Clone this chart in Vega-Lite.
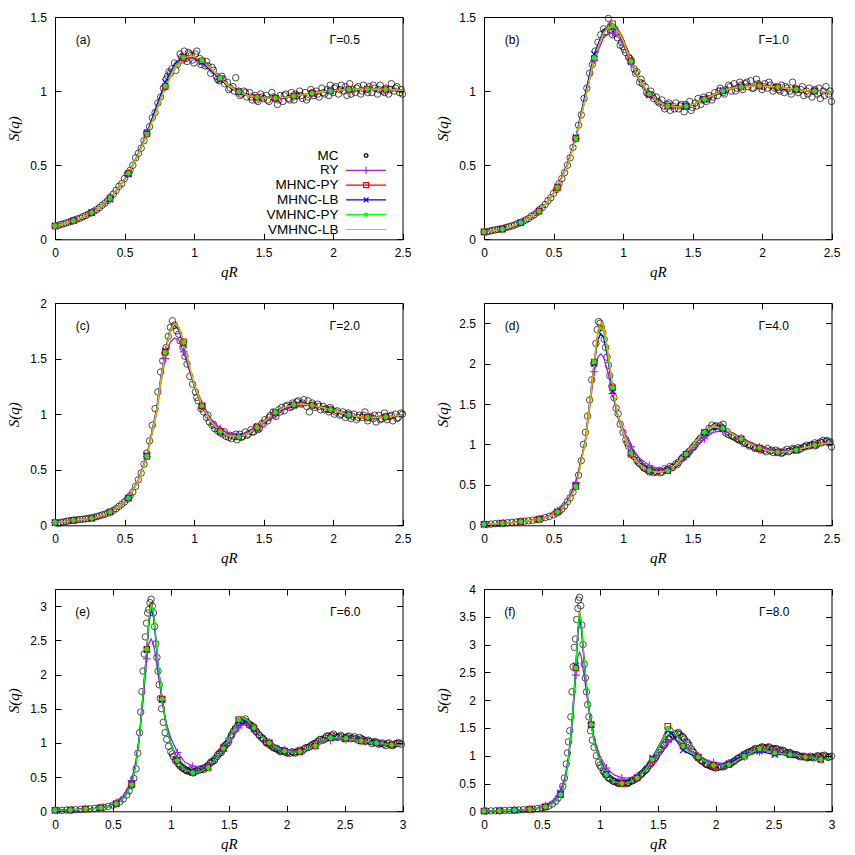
{
"$schema": "https://vega.github.io/schema/vega-lite/v6.json",
"padding": {"left": 5, "top": 10, "right": 0, "bottom": 0},
"background": "white",
"columns": 2,
"spacing": {"row": 63, "column": 81},
"bounds": "flush",
"datasets": {
"labels": [
{"p":"a","tag":"(a)","g":"Γ=0.5"},{"p":"b","tag":"(b)","g":"Γ=1.0"},{"p":"c","tag":"(c)","g":"Γ=2.0"},{"p":"d","tag":"(d)","g":"Γ=4.0"},{"p":"e","tag":"(e)","g":"Γ=6.0"},{"p":"f","tag":"(f)","g":"Γ=8.0"}
],
"curves": [
{"p":"a","q":0,"RY":0.088,"MHNC-PY":0.09,"MHNC-LB":0.09,"VMHNC-PY":0.09,"VMHNC-LB":0.09},
{"p":"a","q":0.066,"RY":0.105,"MHNC-PY":0.105,"MHNC-LB":0.105,"VMHNC-PY":0.105,"VMHNC-LB":0.105},
{"p":"a","q":0.132,"RY":0.125,"MHNC-PY":0.125,"MHNC-LB":0.125,"VMHNC-PY":0.125,"VMHNC-LB":0.125},
{"p":"a","q":0.2,"RY":0.15,"MHNC-PY":0.15,"MHNC-LB":0.15,"VMHNC-PY":0.15,"VMHNC-LB":0.15},
{"p":"a","q":0.264,"RY":0.18,"MHNC-PY":0.18,"MHNC-LB":0.18,"VMHNC-PY":0.18,"VMHNC-LB":0.18},
{"p":"a","q":0.33,"RY":0.22,"MHNC-PY":0.22,"MHNC-LB":0.22,"VMHNC-PY":0.22,"VMHNC-LB":0.22},
{"p":"a","q":0.396,"RY":0.275,"MHNC-PY":0.275,"MHNC-LB":0.27,"VMHNC-PY":0.275,"VMHNC-LB":0.275},
{"p":"a","q":0.46,"RY":0.35,"MHNC-PY":0.35,"MHNC-LB":0.35,"VMHNC-PY":0.35,"VMHNC-LB":0.35},
{"p":"a","q":0.529,"RY":0.445,"MHNC-PY":0.445,"MHNC-LB":0.44,"VMHNC-PY":0.445,"VMHNC-LB":0.445},
{"p":"a","q":0.6,"RY":0.575,"MHNC-PY":0.575,"MHNC-LB":0.58,"VMHNC-PY":0.575,"VMHNC-LB":0.57},
{"p":"a","q":0.661,"RY":0.71,"MHNC-PY":0.71,"MHNC-LB":0.72,"VMHNC-PY":0.71,"VMHNC-LB":0.705},
{"p":"a","q":0.73,"RY":0.87,"MHNC-PY":0.87,"MHNC-LB":0.9,"VMHNC-PY":0.87,"VMHNC-LB":0.86},
{"p":"a","q":0.793,"RY":1.03,"MHNC-PY":1.03,"MHNC-LB":1.06,"VMHNC-PY":1.035,"VMHNC-LB":1.02},
{"p":"a","q":0.86,"RY":1.15,"MHNC-PY":1.16,"MHNC-LB":1.18,"VMHNC-PY":1.16,"VMHNC-LB":1.15},
{"p":"a","q":0.925,"RY":1.215,"MHNC-PY":1.225,"MHNC-LB":1.235,"VMHNC-PY":1.228,"VMHNC-LB":1.222},
{"p":"a","q":0.97,"RY":1.222,"MHNC-PY":1.235,"MHNC-LB":1.235,"VMHNC-PY":1.237,"VMHNC-LB":1.235},
{"p":"a","q":1.0,"RY":1.222,"MHNC-PY":1.232,"MHNC-LB":1.225,"VMHNC-PY":1.234,"VMHNC-LB":1.233},
{"p":"a","q":1.057,"RY":1.2,"MHNC-PY":1.205,"MHNC-LB":1.195,"VMHNC-PY":1.207,"VMHNC-LB":1.207},
{"p":"a","q":1.12,"RY":1.15,"MHNC-PY":1.15,"MHNC-LB":1.14,"VMHNC-PY":1.152,"VMHNC-LB":1.152},
{"p":"a","q":1.189,"RY":1.085,"MHNC-PY":1.085,"MHNC-LB":1.078,"VMHNC-PY":1.087,"VMHNC-LB":1.087},
{"p":"a","q":1.25,"RY":1.035,"MHNC-PY":1.035,"MHNC-LB":1.03,"VMHNC-PY":1.035,"VMHNC-LB":1.035},
{"p":"a","q":1.322,"RY":0.995,"MHNC-PY":0.995,"MHNC-LB":0.993,"VMHNC-PY":0.995,"VMHNC-LB":0.995},
{"p":"a","q":1.39,"RY":0.97,"MHNC-PY":0.97,"MHNC-LB":0.97,"VMHNC-PY":0.97,"VMHNC-LB":0.97},
{"p":"a","q":1.454,"RY":0.957,"MHNC-PY":0.957,"MHNC-LB":0.957,"VMHNC-PY":0.957,"VMHNC-LB":0.957},
{"p":"a","q":1.52,"RY":0.952,"MHNC-PY":0.952,"MHNC-LB":0.952,"VMHNC-PY":0.952,"VMHNC-LB":0.952},
{"p":"a","q":1.586,"RY":0.953,"MHNC-PY":0.953,"MHNC-LB":0.953,"VMHNC-PY":0.953,"VMHNC-LB":0.953},
{"p":"a","q":1.65,"RY":0.958,"MHNC-PY":0.958,"MHNC-LB":0.958,"VMHNC-PY":0.958,"VMHNC-LB":0.958},
{"p":"a","q":1.718,"RY":0.966,"MHNC-PY":0.966,"MHNC-LB":0.966,"VMHNC-PY":0.966,"VMHNC-LB":0.966},
{"p":"a","q":1.78,"RY":0.975,"MHNC-PY":0.975,"MHNC-LB":0.975,"VMHNC-PY":0.975,"VMHNC-LB":0.975},
{"p":"a","q":1.85,"RY":0.985,"MHNC-PY":0.985,"MHNC-LB":0.985,"VMHNC-PY":0.985,"VMHNC-LB":0.985},
{"p":"a","q":1.92,"RY":0.994,"MHNC-PY":0.994,"MHNC-LB":0.994,"VMHNC-PY":0.994,"VMHNC-LB":0.994},
{"p":"a","q":1.982,"RY":1.001,"MHNC-PY":1.001,"MHNC-LB":1.001,"VMHNC-PY":1.001,"VMHNC-LB":1.001},
{"p":"a","q":2.05,"RY":1.007,"MHNC-PY":1.007,"MHNC-LB":1.007,"VMHNC-PY":1.007,"VMHNC-LB":1.007},
{"p":"a","q":2.114,"RY":1.011,"MHNC-PY":1.011,"MHNC-LB":1.011,"VMHNC-PY":1.011,"VMHNC-LB":1.011},
{"p":"a","q":2.18,"RY":1.013,"MHNC-PY":1.013,"MHNC-LB":1.013,"VMHNC-PY":1.013,"VMHNC-LB":1.013},
{"p":"a","q":2.247,"RY":1.014,"MHNC-PY":1.014,"MHNC-LB":1.014,"VMHNC-PY":1.014,"VMHNC-LB":1.014},
{"p":"a","q":2.31,"RY":1.013,"MHNC-PY":1.013,"MHNC-LB":1.013,"VMHNC-PY":1.013,"VMHNC-LB":1.013},
{"p":"a","q":2.379,"RY":1.011,"MHNC-PY":1.011,"MHNC-LB":1.011,"VMHNC-PY":1.011,"VMHNC-LB":1.011},
{"p":"a","q":2.44,"RY":1.008,"MHNC-PY":1.008,"MHNC-LB":1.008,"VMHNC-PY":1.008,"VMHNC-LB":1.008},
{"p":"a","q":2.5,"RY":1.005,"MHNC-PY":1.005,"MHNC-LB":1.005,"VMHNC-PY":1.005,"VMHNC-LB":1.005},
{"p":"b","q":0,"RY":0.05,"MHNC-PY":0.05,"MHNC-LB":0.05,"VMHNC-PY":0.05,"VMHNC-LB":0.05},
{"p":"b","q":0.066,"RY":0.058,"MHNC-PY":0.058,"MHNC-LB":0.058,"VMHNC-PY":0.058,"VMHNC-LB":0.058},
{"p":"b","q":0.132,"RY":0.068,"MHNC-PY":0.068,"MHNC-LB":0.068,"VMHNC-PY":0.068,"VMHNC-LB":0.068},
{"p":"b","q":0.2,"RY":0.087,"MHNC-PY":0.087,"MHNC-LB":0.087,"VMHNC-PY":0.087,"VMHNC-LB":0.087},
{"p":"b","q":0.264,"RY":0.112,"MHNC-PY":0.112,"MHNC-LB":0.112,"VMHNC-PY":0.112,"VMHNC-LB":0.112},
{"p":"b","q":0.33,"RY":0.145,"MHNC-PY":0.145,"MHNC-LB":0.145,"VMHNC-PY":0.145,"VMHNC-LB":0.145},
{"p":"b","q":0.396,"RY":0.19,"MHNC-PY":0.19,"MHNC-LB":0.19,"VMHNC-PY":0.19,"VMHNC-LB":0.19},
{"p":"b","q":0.46,"RY":0.255,"MHNC-PY":0.255,"MHNC-LB":0.255,"VMHNC-PY":0.255,"VMHNC-LB":0.255},
{"p":"b","q":0.529,"RY":0.35,"MHNC-PY":0.35,"MHNC-LB":0.355,"VMHNC-PY":0.35,"VMHNC-LB":0.35},
{"p":"b","q":0.6,"RY":0.5,"MHNC-PY":0.5,"MHNC-LB":0.51,"VMHNC-PY":0.5,"VMHNC-LB":0.5},
{"p":"b","q":0.661,"RY":0.68,"MHNC-PY":0.68,"MHNC-LB":0.69,"VMHNC-PY":0.68,"VMHNC-LB":0.675},
{"p":"b","q":0.73,"RY":0.96,"MHNC-PY":0.96,"MHNC-LB":0.99,"VMHNC-PY":0.96,"VMHNC-LB":0.955},
{"p":"b","q":0.793,"RY":1.21,"MHNC-PY":1.22,"MHNC-LB":1.25,"VMHNC-PY":1.225,"VMHNC-LB":1.22},
{"p":"b","q":0.86,"RY":1.36,"MHNC-PY":1.4,"MHNC-LB":1.41,"VMHNC-PY":1.395,"VMHNC-LB":1.39},
{"p":"b","q":0.9,"RY":1.39,"MHNC-PY":1.45,"MHNC-LB":1.44,"VMHNC-PY":1.44,"VMHNC-LB":1.43},
{"p":"b","q":0.925,"RY":1.39,"MHNC-PY":1.455,"MHNC-LB":1.43,"VMHNC-PY":1.44,"VMHNC-LB":1.428},
{"p":"b","q":0.97,"RY":1.36,"MHNC-PY":1.41,"MHNC-LB":1.385,"VMHNC-PY":1.4,"VMHNC-LB":1.39},
{"p":"b","q":1.0,"RY":1.32,"MHNC-PY":1.355,"MHNC-LB":1.335,"VMHNC-PY":1.345,"VMHNC-LB":1.34},
{"p":"b","q":1.057,"RY":1.19,"MHNC-PY":1.205,"MHNC-LB":1.195,"VMHNC-PY":1.2,"VMHNC-LB":1.2},
{"p":"b","q":1.12,"RY":1.07,"MHNC-PY":1.075,"MHNC-LB":1.07,"VMHNC-PY":1.075,"VMHNC-LB":1.075},
{"p":"b","q":1.189,"RY":0.98,"MHNC-PY":0.978,"MHNC-LB":0.975,"VMHNC-PY":0.98,"VMHNC-LB":0.98},
{"p":"b","q":1.25,"RY":0.93,"MHNC-PY":0.922,"MHNC-LB":0.922,"VMHNC-PY":0.925,"VMHNC-LB":0.925},
{"p":"b","q":1.322,"RY":0.905,"MHNC-PY":0.898,"MHNC-LB":0.898,"VMHNC-PY":0.9,"VMHNC-LB":0.9},
{"p":"b","q":1.39,"RY":0.897,"MHNC-PY":0.892,"MHNC-LB":0.892,"VMHNC-PY":0.893,"VMHNC-LB":0.893},
{"p":"b","q":1.454,"RY":0.9,"MHNC-PY":0.896,"MHNC-LB":0.896,"VMHNC-PY":0.897,"VMHNC-LB":0.897},
{"p":"b","q":1.52,"RY":0.915,"MHNC-PY":0.915,"MHNC-LB":0.915,"VMHNC-PY":0.915,"VMHNC-LB":0.915},
{"p":"b","q":1.586,"RY":0.943,"MHNC-PY":0.945,"MHNC-LB":0.945,"VMHNC-PY":0.945,"VMHNC-LB":0.945},
{"p":"b","q":1.65,"RY":0.975,"MHNC-PY":0.975,"MHNC-LB":0.975,"VMHNC-PY":0.975,"VMHNC-LB":0.975},
{"p":"b","q":1.718,"RY":1.002,"MHNC-PY":1.002,"MHNC-LB":1.002,"VMHNC-PY":1.002,"VMHNC-LB":1.002},
{"p":"b","q":1.78,"RY":1.018,"MHNC-PY":1.018,"MHNC-LB":1.018,"VMHNC-PY":1.018,"VMHNC-LB":1.018},
{"p":"b","q":1.85,"RY":1.028,"MHNC-PY":1.028,"MHNC-LB":1.028,"VMHNC-PY":1.028,"VMHNC-LB":1.028},
{"p":"b","q":1.92,"RY":1.034,"MHNC-PY":1.034,"MHNC-LB":1.034,"VMHNC-PY":1.034,"VMHNC-LB":1.034},
{"p":"b","q":1.982,"RY":1.035,"MHNC-PY":1.035,"MHNC-LB":1.035,"VMHNC-PY":1.035,"VMHNC-LB":1.035},
{"p":"b","q":2.05,"RY":1.032,"MHNC-PY":1.032,"MHNC-LB":1.032,"VMHNC-PY":1.032,"VMHNC-LB":1.032},
{"p":"b","q":2.114,"RY":1.026,"MHNC-PY":1.026,"MHNC-LB":1.026,"VMHNC-PY":1.026,"VMHNC-LB":1.026},
{"p":"b","q":2.18,"RY":1.019,"MHNC-PY":1.019,"MHNC-LB":1.019,"VMHNC-PY":1.019,"VMHNC-LB":1.019},
{"p":"b","q":2.247,"RY":1.012,"MHNC-PY":1.012,"MHNC-LB":1.012,"VMHNC-PY":1.012,"VMHNC-LB":1.012},
{"p":"b","q":2.31,"RY":1.005,"MHNC-PY":1.005,"MHNC-LB":1.005,"VMHNC-PY":1.005,"VMHNC-LB":1.005},
{"p":"b","q":2.379,"RY":1.0,"MHNC-PY":1.0,"MHNC-LB":1.0,"VMHNC-PY":1.0,"VMHNC-LB":1.0},
{"p":"b","q":2.44,"RY":0.996,"MHNC-PY":0.996,"MHNC-LB":0.996,"VMHNC-PY":0.996,"VMHNC-LB":0.996},
{"p":"b","q":2.5,"RY":0.994,"MHNC-PY":0.994,"MHNC-LB":0.994,"VMHNC-PY":0.994,"VMHNC-LB":0.994},
{"p":"c","q":0,"RY":0.025,"MHNC-PY":0.025,"MHNC-LB":0.025,"VMHNC-PY":0.025,"VMHNC-LB":0.025},
{"p":"c","q":0.066,"RY":0.033,"MHNC-PY":0.033,"MHNC-LB":0.033,"VMHNC-PY":0.033,"VMHNC-LB":0.033},
{"p":"c","q":0.132,"RY":0.045,"MHNC-PY":0.045,"MHNC-LB":0.045,"VMHNC-PY":0.045,"VMHNC-LB":0.045},
{"p":"c","q":0.2,"RY":0.053,"MHNC-PY":0.053,"MHNC-LB":0.053,"VMHNC-PY":0.053,"VMHNC-LB":0.053},
{"p":"c","q":0.264,"RY":0.063,"MHNC-PY":0.063,"MHNC-LB":0.063,"VMHNC-PY":0.063,"VMHNC-LB":0.063},
{"p":"c","q":0.33,"RY":0.085,"MHNC-PY":0.085,"MHNC-LB":0.085,"VMHNC-PY":0.085,"VMHNC-LB":0.085},
{"p":"c","q":0.396,"RY":0.12,"MHNC-PY":0.12,"MHNC-LB":0.12,"VMHNC-PY":0.12,"VMHNC-LB":0.12},
{"p":"c","q":0.46,"RY":0.17,"MHNC-PY":0.17,"MHNC-LB":0.17,"VMHNC-PY":0.17,"VMHNC-LB":0.17},
{"p":"c","q":0.529,"RY":0.25,"MHNC-PY":0.245,"MHNC-LB":0.245,"VMHNC-PY":0.245,"VMHNC-LB":0.245},
{"p":"c","q":0.6,"RY":0.41,"MHNC-PY":0.4,"MHNC-LB":0.405,"VMHNC-PY":0.4,"VMHNC-LB":0.4},
{"p":"c","q":0.661,"RY":0.62,"MHNC-PY":0.62,"MHNC-LB":0.63,"VMHNC-PY":0.62,"VMHNC-LB":0.615},
{"p":"c","q":0.73,"RY":1.0,"MHNC-PY":1.02,"MHNC-LB":1.04,"VMHNC-PY":1.02,"VMHNC-LB":1.01},
{"p":"c","q":0.76,"RY":1.27,"MHNC-PY":1.3,"MHNC-LB":1.32,"VMHNC-PY":1.3,"VMHNC-LB":1.29},
{"p":"c","q":0.793,"RY":1.5,"MHNC-PY":1.56,"MHNC-LB":1.57,"VMHNC-PY":1.555,"VMHNC-LB":1.55},
{"p":"c","q":0.83,"RY":1.65,"MHNC-PY":1.76,"MHNC-LB":1.77,"VMHNC-PY":1.76,"VMHNC-LB":1.755},
{"p":"c","q":0.86,"RY":1.685,"MHNC-PY":1.82,"MHNC-LB":1.8,"VMHNC-PY":1.815,"VMHNC-LB":1.815},
{"p":"c","q":0.89,"RY":1.67,"MHNC-PY":1.78,"MHNC-LB":1.76,"VMHNC-PY":1.78,"VMHNC-LB":1.785},
{"p":"c","q":0.925,"RY":1.56,"MHNC-PY":1.65,"MHNC-LB":1.63,"VMHNC-PY":1.645,"VMHNC-LB":1.655},
{"p":"c","q":0.96,"RY":1.42,"MHNC-PY":1.46,"MHNC-LB":1.44,"VMHNC-PY":1.46,"VMHNC-LB":1.47},
{"p":"c","q":1.0,"RY":1.27,"MHNC-PY":1.27,"MHNC-LB":1.26,"VMHNC-PY":1.27,"VMHNC-LB":1.28},
{"p":"c","q":1.057,"RY":1.09,"MHNC-PY":1.075,"MHNC-LB":1.07,"VMHNC-PY":1.075,"VMHNC-LB":1.08},
{"p":"c","q":1.12,"RY":0.96,"MHNC-PY":0.935,"MHNC-LB":0.93,"VMHNC-PY":0.935,"VMHNC-LB":0.938},
{"p":"c","q":1.189,"RY":0.87,"MHNC-PY":0.845,"MHNC-LB":0.84,"VMHNC-PY":0.845,"VMHNC-LB":0.847},
{"p":"c","q":1.25,"RY":0.83,"MHNC-PY":0.805,"MHNC-LB":0.805,"VMHNC-PY":0.805,"VMHNC-LB":0.807},
{"p":"c","q":1.322,"RY":0.815,"MHNC-PY":0.795,"MHNC-LB":0.797,"VMHNC-PY":0.795,"VMHNC-LB":0.797},
{"p":"c","q":1.39,"RY":0.835,"MHNC-PY":0.825,"MHNC-LB":0.827,"VMHNC-PY":0.825,"VMHNC-LB":0.826},
{"p":"c","q":1.454,"RY":0.875,"MHNC-PY":0.88,"MHNC-LB":0.88,"VMHNC-PY":0.88,"VMHNC-LB":0.88},
{"p":"c","q":1.52,"RY":0.935,"MHNC-PY":0.95,"MHNC-LB":0.95,"VMHNC-PY":0.95,"VMHNC-LB":0.95},
{"p":"c","q":1.586,"RY":0.99,"MHNC-PY":1.015,"MHNC-LB":1.01,"VMHNC-PY":1.015,"VMHNC-LB":1.015},
{"p":"c","q":1.65,"RY":1.04,"MHNC-PY":1.06,"MHNC-LB":1.055,"VMHNC-PY":1.06,"VMHNC-LB":1.06},
{"p":"c","q":1.718,"RY":1.07,"MHNC-PY":1.085,"MHNC-LB":1.082,"VMHNC-PY":1.085,"VMHNC-LB":1.085},
{"p":"c","q":1.78,"RY":1.08,"MHNC-PY":1.09,"MHNC-LB":1.088,"VMHNC-PY":1.09,"VMHNC-LB":1.09},
{"p":"c","q":1.85,"RY":1.075,"MHNC-PY":1.08,"MHNC-LB":1.078,"VMHNC-PY":1.08,"VMHNC-LB":1.08},
{"p":"c","q":1.92,"RY":1.058,"MHNC-PY":1.06,"MHNC-LB":1.06,"VMHNC-PY":1.06,"VMHNC-LB":1.06},
{"p":"c","q":1.982,"RY":1.04,"MHNC-PY":1.04,"MHNC-LB":1.04,"VMHNC-PY":1.04,"VMHNC-LB":1.04},
{"p":"c","q":2.05,"RY":1.015,"MHNC-PY":1.015,"MHNC-LB":1.015,"VMHNC-PY":1.015,"VMHNC-LB":1.015},
{"p":"c","q":2.114,"RY":0.993,"MHNC-PY":0.993,"MHNC-LB":0.993,"VMHNC-PY":0.993,"VMHNC-LB":0.993},
{"p":"c","q":2.18,"RY":0.978,"MHNC-PY":0.978,"MHNC-LB":0.978,"VMHNC-PY":0.978,"VMHNC-LB":0.978},
{"p":"c","q":2.247,"RY":0.97,"MHNC-PY":0.97,"MHNC-LB":0.97,"VMHNC-PY":0.97,"VMHNC-LB":0.97},
{"p":"c","q":2.31,"RY":0.97,"MHNC-PY":0.97,"MHNC-LB":0.97,"VMHNC-PY":0.97,"VMHNC-LB":0.97},
{"p":"c","q":2.379,"RY":0.975,"MHNC-PY":0.975,"MHNC-LB":0.975,"VMHNC-PY":0.975,"VMHNC-LB":0.975},
{"p":"c","q":2.44,"RY":0.985,"MHNC-PY":0.985,"MHNC-LB":0.985,"VMHNC-PY":0.985,"VMHNC-LB":0.985},
{"p":"c","q":2.5,"RY":0.993,"MHNC-PY":0.993,"MHNC-LB":0.993,"VMHNC-PY":0.993,"VMHNC-LB":0.993},
{"p":"d","q":0,"RY":0.012,"MHNC-PY":0.012,"MHNC-LB":0.012,"VMHNC-PY":0.012,"VMHNC-LB":0.012},
{"p":"d","q":0.066,"RY":0.018,"MHNC-PY":0.018,"MHNC-LB":0.018,"VMHNC-PY":0.018,"VMHNC-LB":0.018},
{"p":"d","q":0.132,"RY":0.025,"MHNC-PY":0.025,"MHNC-LB":0.025,"VMHNC-PY":0.025,"VMHNC-LB":0.025},
{"p":"d","q":0.2,"RY":0.034,"MHNC-PY":0.034,"MHNC-LB":0.034,"VMHNC-PY":0.034,"VMHNC-LB":0.034},
{"p":"d","q":0.264,"RY":0.046,"MHNC-PY":0.045,"MHNC-LB":0.045,"VMHNC-PY":0.045,"VMHNC-LB":0.045},
{"p":"d","q":0.33,"RY":0.06,"MHNC-PY":0.057,"MHNC-LB":0.057,"VMHNC-PY":0.057,"VMHNC-LB":0.057},
{"p":"d","q":0.396,"RY":0.08,"MHNC-PY":0.074,"MHNC-LB":0.074,"VMHNC-PY":0.074,"VMHNC-LB":0.074},
{"p":"d","q":0.46,"RY":0.115,"MHNC-PY":0.105,"MHNC-LB":0.105,"VMHNC-PY":0.105,"VMHNC-LB":0.105},
{"p":"d","q":0.529,"RY":0.18,"MHNC-PY":0.165,"MHNC-LB":0.168,"VMHNC-PY":0.165,"VMHNC-LB":0.163},
{"p":"d","q":0.6,"RY":0.3,"MHNC-PY":0.28,"MHNC-LB":0.285,"VMHNC-PY":0.28,"VMHNC-LB":0.275},
{"p":"d","q":0.661,"RY":0.53,"MHNC-PY":0.48,"MHNC-LB":0.49,"VMHNC-PY":0.48,"VMHNC-LB":0.47},
{"p":"d","q":0.73,"RY":1.05,"MHNC-PY":1.05,"MHNC-LB":1.07,"VMHNC-PY":1.05,"VMHNC-LB":1.03},
{"p":"d","q":0.76,"RY":1.45,"MHNC-PY":1.5,"MHNC-LB":1.52,"VMHNC-PY":1.5,"VMHNC-LB":1.48},
{"p":"d","q":0.793,"RY":1.9,"MHNC-PY":2.02,"MHNC-LB":2.0,"VMHNC-PY":2.02,"VMHNC-LB":2.0},
{"p":"d","q":0.82,"RY":2.08,"MHNC-PY":2.4,"MHNC-LB":2.3,"VMHNC-PY":2.38,"VMHNC-LB":2.42},
{"p":"d","q":0.84,"RY":2.12,"MHNC-PY":2.48,"MHNC-LB":2.37,"VMHNC-PY":2.45,"VMHNC-LB":2.51},
{"p":"d","q":0.86,"RY":2.08,"MHNC-PY":2.43,"MHNC-LB":2.33,"VMHNC-PY":2.41,"VMHNC-LB":2.47},
{"p":"d","q":0.89,"RY":1.9,"MHNC-PY":2.14,"MHNC-LB":2.07,"VMHNC-PY":2.12,"VMHNC-LB":2.17},
{"p":"d","q":0.925,"RY":1.63,"MHNC-PY":1.7,"MHNC-LB":1.66,"VMHNC-PY":1.7,"VMHNC-LB":1.72},
{"p":"d","q":0.96,"RY":1.38,"MHNC-PY":1.38,"MHNC-LB":1.36,"VMHNC-PY":1.38,"VMHNC-LB":1.39},
{"p":"d","q":1.0,"RY":1.2,"MHNC-PY":1.15,"MHNC-LB":1.14,"VMHNC-PY":1.15,"VMHNC-LB":1.16},
{"p":"d","q":1.057,"RY":0.97,"MHNC-PY":0.88,"MHNC-LB":0.9,"VMHNC-PY":0.89,"VMHNC-LB":0.89},
{"p":"d","q":1.12,"RY":0.83,"MHNC-PY":0.75,"MHNC-LB":0.77,"VMHNC-PY":0.755,"VMHNC-LB":0.75},
{"p":"d","q":1.189,"RY":0.74,"MHNC-PY":0.675,"MHNC-LB":0.69,"VMHNC-PY":0.68,"VMHNC-LB":0.675},
{"p":"d","q":1.25,"RY":0.7,"MHNC-PY":0.655,"MHNC-LB":0.665,"VMHNC-PY":0.66,"VMHNC-LB":0.655},
{"p":"d","q":1.322,"RY":0.7,"MHNC-PY":0.675,"MHNC-LB":0.68,"VMHNC-PY":0.675,"VMHNC-LB":0.675},
{"p":"d","q":1.39,"RY":0.76,"MHNC-PY":0.76,"MHNC-LB":0.765,"VMHNC-PY":0.76,"VMHNC-LB":0.765},
{"p":"d","q":1.454,"RY":0.85,"MHNC-PY":0.88,"MHNC-LB":0.88,"VMHNC-PY":0.88,"VMHNC-LB":0.89},
{"p":"d","q":1.52,"RY":0.96,"MHNC-PY":1.02,"MHNC-LB":1.01,"VMHNC-PY":1.02,"VMHNC-LB":1.03},
{"p":"d","q":1.586,"RY":1.07,"MHNC-PY":1.15,"MHNC-LB":1.14,"VMHNC-PY":1.15,"VMHNC-LB":1.17},
{"p":"d","q":1.65,"RY":1.15,"MHNC-PY":1.215,"MHNC-LB":1.2,"VMHNC-PY":1.215,"VMHNC-LB":1.225},
{"p":"d","q":1.718,"RY":1.17,"MHNC-PY":1.2,"MHNC-LB":1.19,"VMHNC-PY":1.2,"VMHNC-LB":1.2},
{"p":"d","q":1.78,"RY":1.13,"MHNC-PY":1.14,"MHNC-LB":1.135,"VMHNC-PY":1.14,"VMHNC-LB":1.135},
{"p":"d","q":1.85,"RY":1.08,"MHNC-PY":1.07,"MHNC-LB":1.07,"VMHNC-PY":1.07,"VMHNC-LB":1.065},
{"p":"d","q":1.92,"RY":1.02,"MHNC-PY":1.0,"MHNC-LB":1.0,"VMHNC-PY":1.0,"VMHNC-LB":1.0},
{"p":"d","q":1.982,"RY":0.97,"MHNC-PY":0.955,"MHNC-LB":0.955,"VMHNC-PY":0.955,"VMHNC-LB":0.953},
{"p":"d","q":2.05,"RY":0.94,"MHNC-PY":0.92,"MHNC-LB":0.92,"VMHNC-PY":0.92,"VMHNC-LB":0.918},
{"p":"d","q":2.114,"RY":0.92,"MHNC-PY":0.905,"MHNC-LB":0.905,"VMHNC-PY":0.905,"VMHNC-LB":0.905},
{"p":"d","q":2.18,"RY":0.92,"MHNC-PY":0.91,"MHNC-LB":0.91,"VMHNC-PY":0.91,"VMHNC-LB":0.912},
{"p":"d","q":2.247,"RY":0.935,"MHNC-PY":0.93,"MHNC-LB":0.93,"VMHNC-PY":0.93,"VMHNC-LB":0.932},
{"p":"d","q":2.31,"RY":0.96,"MHNC-PY":0.96,"MHNC-LB":0.96,"VMHNC-PY":0.96,"VMHNC-LB":0.962},
{"p":"d","q":2.379,"RY":0.985,"MHNC-PY":0.99,"MHNC-LB":0.99,"VMHNC-PY":0.99,"VMHNC-LB":0.99},
{"p":"d","q":2.44,"RY":1.005,"MHNC-PY":1.01,"MHNC-LB":1.01,"VMHNC-PY":1.01,"VMHNC-LB":1.01},
{"p":"d","q":2.5,"RY":1.015,"MHNC-PY":1.02,"MHNC-LB":1.02,"VMHNC-PY":1.02,"VMHNC-LB":1.02},
{"p":"e","q":0,"RY":0.015,"MHNC-PY":0.015,"MHNC-LB":0.015,"VMHNC-PY":0.015},
{"p":"e","q":0.066,"RY":0.017,"MHNC-PY":0.017,"MHNC-LB":0.017,"VMHNC-PY":0.017},
{"p":"e","q":0.132,"RY":0.02,"MHNC-PY":0.02,"MHNC-LB":0.02,"VMHNC-PY":0.02},
{"p":"e","q":0.2,"RY":0.027,"MHNC-PY":0.026,"MHNC-LB":0.026,"VMHNC-PY":0.026},
{"p":"e","q":0.264,"RY":0.036,"MHNC-PY":0.034,"MHNC-LB":0.034,"VMHNC-PY":0.034},
{"p":"e","q":0.33,"RY":0.043,"MHNC-PY":0.04,"MHNC-LB":0.04,"VMHNC-PY":0.04},
{"p":"e","q":0.396,"RY":0.055,"MHNC-PY":0.05,"MHNC-LB":0.05,"VMHNC-PY":0.05},
{"p":"e","q":0.46,"RY":0.08,"MHNC-PY":0.07,"MHNC-LB":0.07,"VMHNC-PY":0.07},
{"p":"e","q":0.529,"RY":0.13,"MHNC-PY":0.11,"MHNC-LB":0.112,"VMHNC-PY":0.11},
{"p":"e","q":0.6,"RY":0.24,"MHNC-PY":0.2,"MHNC-LB":0.205,"VMHNC-PY":0.2},
{"p":"e","q":0.661,"RY":0.45,"MHNC-PY":0.39,"MHNC-LB":0.4,"VMHNC-PY":0.39},
{"p":"e","q":0.7,"RY":0.75,"MHNC-PY":0.7,"MHNC-LB":0.72,"VMHNC-PY":0.7},
{"p":"e","q":0.73,"RY":1.1,"MHNC-PY":1.1,"MHNC-LB":1.12,"VMHNC-PY":1.1},
{"p":"e","q":0.76,"RY":1.6,"MHNC-PY":1.7,"MHNC-LB":1.72,"VMHNC-PY":1.7},
{"p":"e","q":0.793,"RY":2.23,"MHNC-PY":2.37,"MHNC-LB":2.36,"VMHNC-PY":2.37},
{"p":"e","q":0.81,"RY":2.45,"MHNC-PY":2.8,"MHNC-LB":2.75,"VMHNC-PY":2.8},
{"p":"e","q":0.83,"RY":2.52,"MHNC-PY":3.05,"MHNC-LB":2.95,"VMHNC-PY":3.03},
{"p":"e","q":0.85,"RY":2.45,"MHNC-PY":2.9,"MHNC-LB":2.85,"VMHNC-PY":2.9},
{"p":"e","q":0.87,"RY":2.25,"MHNC-PY":2.55,"MHNC-LB":2.5,"VMHNC-PY":2.55},
{"p":"e","q":0.89,"RY":2.0,"MHNC-PY":2.15,"MHNC-LB":2.12,"VMHNC-PY":2.15},
{"p":"e","q":0.925,"RY":1.62,"MHNC-PY":1.64,"MHNC-LB":1.63,"VMHNC-PY":1.64},
{"p":"e","q":0.96,"RY":1.3,"MHNC-PY":1.25,"MHNC-LB":1.25,"VMHNC-PY":1.25},
{"p":"e","q":1.0,"RY":1.07,"MHNC-PY":0.98,"MHNC-LB":0.99,"VMHNC-PY":0.98},
{"p":"e","q":1.057,"RY":0.86,"MHNC-PY":0.74,"MHNC-LB":0.75,"VMHNC-PY":0.74},
{"p":"e","q":1.12,"RY":0.72,"MHNC-PY":0.61,"MHNC-LB":0.62,"VMHNC-PY":0.61},
{"p":"e","q":1.189,"RY":0.66,"MHNC-PY":0.565,"MHNC-LB":0.575,"VMHNC-PY":0.565},
{"p":"e","q":1.25,"RY":0.64,"MHNC-PY":0.575,"MHNC-LB":0.58,"VMHNC-PY":0.575},
{"p":"e","q":1.322,"RY":0.67,"MHNC-PY":0.64,"MHNC-LB":0.645,"VMHNC-PY":0.64},
{"p":"e","q":1.39,"RY":0.76,"MHNC-PY":0.77,"MHNC-LB":0.78,"VMHNC-PY":0.77},
{"p":"e","q":1.454,"RY":0.88,"MHNC-PY":0.92,"MHNC-LB":0.93,"VMHNC-PY":0.92},
{"p":"e","q":1.52,"RY":1.05,"MHNC-PY":1.13,"MHNC-LB":1.15,"VMHNC-PY":1.13},
{"p":"e","q":1.586,"RY":1.22,"MHNC-PY":1.34,"MHNC-LB":1.32,"VMHNC-PY":1.34},
{"p":"e","q":1.62,"RY":1.27,"MHNC-PY":1.37,"MHNC-LB":1.34,"VMHNC-PY":1.37},
{"p":"e","q":1.66,"RY":1.27,"MHNC-PY":1.33,"MHNC-LB":1.31,"VMHNC-PY":1.33},
{"p":"e","q":1.718,"RY":1.2,"MHNC-PY":1.22,"MHNC-LB":1.2,"VMHNC-PY":1.22},
{"p":"e","q":1.78,"RY":1.1,"MHNC-PY":1.1,"MHNC-LB":1.1,"VMHNC-PY":1.1},
{"p":"e","q":1.85,"RY":1.01,"MHNC-PY":1.0,"MHNC-LB":1.0,"VMHNC-PY":1.0},
{"p":"e","q":1.92,"RY":0.94,"MHNC-PY":0.92,"MHNC-LB":0.92,"VMHNC-PY":0.92},
{"p":"e","q":1.982,"RY":0.9,"MHNC-PY":0.88,"MHNC-LB":0.88,"VMHNC-PY":0.88},
{"p":"e","q":2.05,"RY":0.88,"MHNC-PY":0.865,"MHNC-LB":0.865,"VMHNC-PY":0.865},
{"p":"e","q":2.114,"RY":0.88,"MHNC-PY":0.87,"MHNC-LB":0.87,"VMHNC-PY":0.87},
{"p":"e","q":2.18,"RY":0.91,"MHNC-PY":0.905,"MHNC-LB":0.905,"VMHNC-PY":0.905},
{"p":"e","q":2.247,"RY":0.95,"MHNC-PY":0.955,"MHNC-LB":0.955,"VMHNC-PY":0.955},
{"p":"e","q":2.31,"RY":1.0,"MHNC-PY":1.02,"MHNC-LB":1.02,"VMHNC-PY":1.02},
{"p":"e","q":2.379,"RY":1.04,"MHNC-PY":1.075,"MHNC-LB":1.07,"VMHNC-PY":1.075},
{"p":"e","q":2.44,"RY":1.05,"MHNC-PY":1.075,"MHNC-LB":1.07,"VMHNC-PY":1.075},
{"p":"e","q":2.511,"RY":1.05,"MHNC-PY":1.065,"MHNC-LB":1.06,"VMHNC-PY":1.065},
{"p":"e","q":2.58,"RY":1.04,"MHNC-PY":1.045,"MHNC-LB":1.045,"VMHNC-PY":1.045},
{"p":"e","q":2.643,"RY":1.025,"MHNC-PY":1.03,"MHNC-LB":1.03,"VMHNC-PY":1.03},
{"p":"e","q":2.71,"RY":1.01,"MHNC-PY":1.015,"MHNC-LB":1.015,"VMHNC-PY":1.015},
{"p":"e","q":2.775,"RY":1.0,"MHNC-PY":1.0,"MHNC-LB":1.0,"VMHNC-PY":1.0},
{"p":"e","q":2.84,"RY":0.985,"MHNC-PY":0.985,"MHNC-LB":0.985,"VMHNC-PY":0.985},
{"p":"e","q":2.907,"RY":0.97,"MHNC-PY":0.97,"MHNC-LB":0.97,"VMHNC-PY":0.97},
{"p":"e","q":2.96,"RY":0.965,"MHNC-PY":0.965,"MHNC-LB":0.965,"VMHNC-PY":0.965},
{"p":"e","q":3.0,"RY":0.965,"MHNC-PY":0.965,"MHNC-LB":0.965,"VMHNC-PY":0.965},
{"p":"f","q":0,"RY":0.005,"MHNC-PY":0.005,"MHNC-LB":0.005,"VMHNC-PY":0.005},
{"p":"f","q":0.066,"RY":0.007,"MHNC-PY":0.007,"MHNC-LB":0.007,"VMHNC-PY":0.007},
{"p":"f","q":0.132,"RY":0.01,"MHNC-PY":0.01,"MHNC-LB":0.01,"VMHNC-PY":0.01},
{"p":"f","q":0.2,"RY":0.015,"MHNC-PY":0.014,"MHNC-LB":0.014,"VMHNC-PY":0.014},
{"p":"f","q":0.264,"RY":0.022,"MHNC-PY":0.02,"MHNC-LB":0.02,"VMHNC-PY":0.02},
{"p":"f","q":0.33,"RY":0.03,"MHNC-PY":0.026,"MHNC-LB":0.026,"VMHNC-PY":0.026},
{"p":"f","q":0.396,"RY":0.04,"MHNC-PY":0.035,"MHNC-LB":0.035,"VMHNC-PY":0.035},
{"p":"f","q":0.46,"RY":0.06,"MHNC-PY":0.05,"MHNC-LB":0.05,"VMHNC-PY":0.05},
{"p":"f","q":0.529,"RY":0.1,"MHNC-PY":0.08,"MHNC-LB":0.082,"VMHNC-PY":0.08},
{"p":"f","q":0.6,"RY":0.19,"MHNC-PY":0.15,"MHNC-LB":0.155,"VMHNC-PY":0.15},
{"p":"f","q":0.661,"RY":0.38,"MHNC-PY":0.3,"MHNC-LB":0.31,"VMHNC-PY":0.3},
{"p":"f","q":0.7,"RY":0.62,"MHNC-PY":0.55,"MHNC-LB":0.57,"VMHNC-PY":0.55},
{"p":"f","q":0.73,"RY":0.98,"MHNC-PY":0.95,"MHNC-LB":0.97,"VMHNC-PY":0.95},
{"p":"f","q":0.76,"RY":1.5,"MHNC-PY":1.6,"MHNC-LB":1.62,"VMHNC-PY":1.6},
{"p":"f","q":0.793,"RY":2.45,"MHNC-PY":2.58,"MHNC-LB":2.62,"VMHNC-PY":2.58},
{"p":"f","q":0.81,"RY":2.78,"MHNC-PY":3.25,"MHNC-LB":3.2,"VMHNC-PY":3.25},
{"p":"f","q":0.825,"RY":2.86,"MHNC-PY":3.6,"MHNC-LB":3.5,"VMHNC-PY":3.58},
{"p":"f","q":0.84,"RY":2.78,"MHNC-PY":3.4,"MHNC-LB":3.3,"VMHNC-PY":3.4},
{"p":"f","q":0.86,"RY":2.5,"MHNC-PY":2.85,"MHNC-LB":2.8,"VMHNC-PY":2.85},
{"p":"f","q":0.88,"RY":2.2,"MHNC-PY":2.35,"MHNC-LB":2.32,"VMHNC-PY":2.35},
{"p":"f","q":0.9,"RY":1.9,"MHNC-PY":1.95,"MHNC-LB":1.94,"VMHNC-PY":1.95},
{"p":"f","q":0.925,"RY":1.58,"MHNC-PY":1.56,"MHNC-LB":1.56,"VMHNC-PY":1.56},
{"p":"f","q":0.96,"RY":1.25,"MHNC-PY":1.18,"MHNC-LB":1.19,"VMHNC-PY":1.18},
{"p":"f","q":1.0,"RY":1.0,"MHNC-PY":0.9,"MHNC-LB":0.91,"VMHNC-PY":0.9},
{"p":"f","q":1.057,"RY":0.78,"MHNC-PY":0.66,"MHNC-LB":0.67,"VMHNC-PY":0.66},
{"p":"f","q":1.12,"RY":0.66,"MHNC-PY":0.54,"MHNC-LB":0.55,"VMHNC-PY":0.54},
{"p":"f","q":1.189,"RY":0.6,"MHNC-PY":0.5,"MHNC-LB":0.51,"VMHNC-PY":0.5},
{"p":"f","q":1.25,"RY":0.6,"MHNC-PY":0.515,"MHNC-LB":0.525,"VMHNC-PY":0.515},
{"p":"f","q":1.322,"RY":0.64,"MHNC-PY":0.6,"MHNC-LB":0.61,"VMHNC-PY":0.6},
{"p":"f","q":1.39,"RY":0.74,"MHNC-PY":0.74,"MHNC-LB":0.76,"VMHNC-PY":0.74},
{"p":"f","q":1.454,"RY":0.88,"MHNC-PY":0.93,"MHNC-LB":0.96,"VMHNC-PY":0.93},
{"p":"f","q":1.52,"RY":1.06,"MHNC-PY":1.2,"MHNC-LB":1.22,"VMHNC-PY":1.2},
{"p":"f","q":1.586,"RY":1.24,"MHNC-PY":1.53,"MHNC-LB":1.45,"VMHNC-PY":1.49},
{"p":"f","q":1.62,"RY":1.3,"MHNC-PY":1.5,"MHNC-LB":1.42,"VMHNC-PY":1.5},
{"p":"f","q":1.66,"RY":1.28,"MHNC-PY":1.38,"MHNC-LB":1.28,"VMHNC-PY":1.38},
{"p":"f","q":1.718,"RY":1.2,"MHNC-PY":1.17,"MHNC-LB":1.1,"VMHNC-PY":1.17},
{"p":"f","q":1.78,"RY":1.1,"MHNC-PY":1.06,"MHNC-LB":1.03,"VMHNC-PY":1.06},
{"p":"f","q":1.85,"RY":1.0,"MHNC-PY":0.975,"MHNC-LB":0.97,"VMHNC-PY":0.975},
{"p":"f","q":1.92,"RY":0.93,"MHNC-PY":0.89,"MHNC-LB":0.89,"VMHNC-PY":0.89},
{"p":"f","q":1.982,"RY":0.88,"MHNC-PY":0.826,"MHNC-LB":0.83,"VMHNC-PY":0.826},
{"p":"f","q":2.05,"RY":0.86,"MHNC-PY":0.83,"MHNC-LB":0.84,"VMHNC-PY":0.83},
{"p":"f","q":2.114,"RY":0.87,"MHNC-PY":0.84,"MHNC-LB":0.86,"VMHNC-PY":0.84},
{"p":"f","q":2.18,"RY":0.92,"MHNC-PY":0.91,"MHNC-LB":0.94,"VMHNC-PY":0.91},
{"p":"f","q":2.247,"RY":0.98,"MHNC-PY":0.99,"MHNC-LB":1.02,"VMHNC-PY":0.99},
{"p":"f","q":2.31,"RY":1.03,"MHNC-PY":1.06,"MHNC-LB":1.06,"VMHNC-PY":1.06},
{"p":"f","q":2.379,"RY":1.07,"MHNC-PY":1.125,"MHNC-LB":1.08,"VMHNC-PY":1.125},
{"p":"f","q":2.44,"RY":1.08,"MHNC-PY":1.09,"MHNC-LB":1.05,"VMHNC-PY":1.09},
{"p":"f","q":2.511,"RY":1.06,"MHNC-PY":1.05,"MHNC-LB":1.02,"VMHNC-PY":1.05},
{"p":"f","q":2.58,"RY":1.04,"MHNC-PY":1.03,"MHNC-LB":1.02,"VMHNC-PY":1.03},
{"p":"f","q":2.643,"RY":1.025,"MHNC-PY":1.02,"MHNC-LB":1.015,"VMHNC-PY":1.02},
{"p":"f","q":2.71,"RY":1.005,"MHNC-PY":1.0,"MHNC-LB":1.0,"VMHNC-PY":1.0},
{"p":"f","q":2.775,"RY":0.98,"MHNC-PY":0.976,"MHNC-LB":0.976,"VMHNC-PY":0.976},
{"p":"f","q":2.84,"RY":0.96,"MHNC-PY":0.955,"MHNC-LB":0.955,"VMHNC-PY":0.955},
{"p":"f","q":2.907,"RY":0.94,"MHNC-PY":0.935,"MHNC-LB":0.935,"VMHNC-PY":0.935},
{"p":"f","q":2.96,"RY":0.945,"MHNC-PY":0.945,"MHNC-LB":0.945,"VMHNC-PY":0.945},
{"p":"f","q":3.0,"RY":0.955,"MHNC-PY":0.955,"MHNC-LB":0.955,"VMHNC-PY":0.955}
],
"mc": [
{"p":"a","q":0.02,"y":0.092},{"p":"a","q":0.04,"y":0.1},{"p":"a","q":0.06,"y":0.104},{"p":"a","q":0.08,"y":0.11},{"p":"a","q":0.1,"y":0.116},{"p":"a","q":0.12,"y":0.122},{"p":"a","q":0.14,"y":0.13},{"p":"a","q":0.16,"y":0.137},{"p":"a","q":0.18,"y":0.143},{"p":"a","q":0.2,"y":0.152},{"p":"a","q":0.22,"y":0.16},{"p":"a","q":0.24,"y":0.17},{"p":"a","q":0.26,"y":0.18},{"p":"a","q":0.28,"y":0.19},{"p":"a","q":0.3,"y":0.2},{"p":"a","q":0.32,"y":0.214},{"p":"a","q":0.34,"y":0.23},{"p":"a","q":0.36,"y":0.245},{"p":"a","q":0.38,"y":0.262},{"p":"a","q":0.4,"y":0.285},{"p":"a","q":0.42,"y":0.305},{"p":"a","q":0.44,"y":0.33},{"p":"a","q":0.46,"y":0.358},{"p":"a","q":0.48,"y":0.375},{"p":"a","q":0.5,"y":0.41},{"p":"a","q":0.52,"y":0.44},{"p":"a","q":0.54,"y":0.465},{"p":"a","q":0.56,"y":0.5},{"p":"a","q":0.58,"y":0.55},{"p":"a","q":0.6,"y":0.58},{"p":"a","q":0.62,"y":0.615},{"p":"a","q":0.64,"y":0.665},{"p":"a","q":0.66,"y":0.72},{"p":"a","q":0.68,"y":0.76},{"p":"a","q":0.7,"y":0.82},{"p":"a","q":0.72,"y":0.855},{"p":"a","q":0.74,"y":0.92},{"p":"a","q":0.76,"y":0.96},{"p":"a","q":0.78,"y":1.02},{"p":"a","q":0.8,"y":1.08},{"p":"a","q":0.82,"y":1.13},{"p":"a","q":0.84,"y":1.15},{"p":"a","q":0.86,"y":1.19},{"p":"a","q":0.88,"y":1.18},{"p":"a","q":0.9,"y":1.25},{"p":"a","q":0.915,"y":1.21},{"p":"a","q":0.93,"y":1.27},{"p":"a","q":0.95,"y":1.2},{"p":"a","q":0.96,"y":1.26},{"p":"a","q":0.98,"y":1.24},{"p":"a","q":1.0,"y":1.19},{"p":"a","q":1.02,"y":1.27},{"p":"a","q":1.04,"y":1.22},{"p":"a","q":1.06,"y":1.2},{"p":"a","q":1.08,"y":1.17},{"p":"a","q":1.1,"y":1.17},{"p":"a","q":1.12,"y":1.12},{"p":"a","q":1.14,"y":1.14},{"p":"a","q":1.16,"y":1.1},{"p":"a","q":1.18,"y":1.07},{"p":"a","q":1.2,"y":1.1},{"p":"a","q":1.22,"y":1.05},{"p":"a","q":1.24,"y":1.06},{"p":"a","q":1.26,"y":1.02},{"p":"a","q":1.28,"y":1.03},{"p":"a","q":1.3,"y":1.09},{"p":"a","q":1.32,"y":1.0},{"p":"a","q":1.34,"y":0.98},{"p":"a","q":1.36,"y":1.0},{"p":"a","q":1.38,"y":0.96},{"p":"a","q":1.4,"y":0.99},{"p":"a","q":1.42,"y":0.94},{"p":"a","q":1.44,"y":0.97},{"p":"a","q":1.46,"y":0.93},{"p":"a","q":1.48,"y":0.98},{"p":"a","q":1.5,"y":0.95},{"p":"a","q":1.52,"y":0.97},{"p":"a","q":1.54,"y":0.93},{"p":"a","q":1.56,"y":0.99},{"p":"a","q":1.58,"y":0.95},{"p":"a","q":1.6,"y":0.91},{"p":"a","q":1.62,"y":0.97},{"p":"a","q":1.64,"y":0.93},{"p":"a","q":1.66,"y":0.98},{"p":"a","q":1.68,"y":0.95},{"p":"a","q":1.7,"y":0.99},{"p":"a","q":1.72,"y":0.94},{"p":"a","q":1.74,"y":0.97},{"p":"a","q":1.76,"y":1.0},{"p":"a","q":1.78,"y":0.95},{"p":"a","q":1.8,"y":0.99},{"p":"a","q":1.82,"y":0.96},{"p":"a","q":1.84,"y":1.01},{"p":"a","q":1.86,"y":0.97},{"p":"a","q":1.88,"y":1.0},{"p":"a","q":1.9,"y":0.96},{"p":"a","q":1.92,"y":1.02},{"p":"a","q":1.94,"y":0.98},{"p":"a","q":1.96,"y":1.01},{"p":"a","q":1.98,"y":1.04},{"p":"a","q":2.0,"y":0.99},{"p":"a","q":2.02,"y":1.03},{"p":"a","q":2.04,"y":0.98},{"p":"a","q":2.06,"y":1.04},{"p":"a","q":2.08,"y":1.0},{"p":"a","q":2.1,"y":0.97},{"p":"a","q":2.12,"y":1.05},{"p":"a","q":2.14,"y":1.01},{"p":"a","q":2.16,"y":0.99},{"p":"a","q":2.18,"y":1.03},{"p":"a","q":2.2,"y":0.98},{"p":"a","q":2.22,"y":1.04},{"p":"a","q":2.24,"y":1.01},{"p":"a","q":2.26,"y":1.03},{"p":"a","q":2.28,"y":0.99},{"p":"a","q":2.3,"y":1.02},{"p":"a","q":2.32,"y":0.98},{"p":"a","q":2.34,"y":1.04},{"p":"a","q":2.36,"y":1.0},{"p":"a","q":2.38,"y":1.02},{"p":"a","q":2.4,"y":0.98},{"p":"a","q":2.42,"y":1.05},{"p":"a","q":2.44,"y":1.0},{"p":"a","q":2.46,"y":1.03},{"p":"a","q":2.48,"y":0.99},{"p":"a","q":2.5,"y":0.98},
{"p":"a","q":0.81,"y":1.1},{"p":"a","q":0.83,"y":1.12},{"p":"a","q":0.87,"y":1.14},{"p":"a","q":0.91,"y":1.23},{"p":"a","q":0.94,"y":1.22},{"p":"a","q":0.97,"y":1.25},{"p":"a","q":0.99,"y":1.21},{"p":"a","q":1.01,"y":1.25},{"p":"a","q":1.05,"y":1.18},{"p":"a","q":1.09,"y":1.2},{"p":"a","q":1.13,"y":1.16},{"p":"a","q":1.17,"y":1.08},{"p":"a","q":1.21,"y":1.08},{"p":"a","q":1.25,"y":1.01},{"p":"a","q":1.29,"y":1.0},{"p":"a","q":1.33,"y":0.97},{"p":"a","q":1.37,"y":0.99},{"p":"a","q":1.41,"y":0.96},{"p":"a","q":1.45,"y":0.94},{"p":"a","q":1.49,"y":0.96},{"p":"a","q":1.53,"y":0.94},{"p":"a","q":1.57,"y":0.96},{"p":"a","q":1.61,"y":0.94},{"p":"a","q":1.65,"y":0.97},{"p":"a","q":1.69,"y":0.94},{"p":"a","q":1.73,"y":0.98},{"p":"a","q":1.77,"y":0.97},{"p":"a","q":1.81,"y":0.94},{"p":"a","q":1.85,"y":0.99},{"p":"a","q":1.89,"y":0.98},{"p":"a","q":1.93,"y":0.99},{"p":"a","q":1.97,"y":0.97},{"p":"a","q":2.01,"y":1.02},{"p":"a","q":2.05,"y":1.01},{"p":"a","q":2.09,"y":1.03},{"p":"a","q":2.13,"y":0.98},{"p":"a","q":2.17,"y":1.02},{"p":"a","q":2.21,"y":1.0},{"p":"a","q":2.25,"y":0.99},{"p":"a","q":2.29,"y":1.04},{"p":"a","q":2.33,"y":1.01},{"p":"a","q":2.37,"y":0.99},{"p":"a","q":2.41,"y":1.01},{"p":"a","q":2.45,"y":1.02},{"p":"a","q":2.49,"y":1.01},
{"p":"b","q":0.02,"y":0.05},{"p":"b","q":0.04,"y":0.055},{"p":"b","q":0.06,"y":0.06},{"p":"b","q":0.08,"y":0.063},{"p":"b","q":0.1,"y":0.067},{"p":"b","q":0.12,"y":0.07},{"p":"b","q":0.14,"y":0.074},{"p":"b","q":0.16,"y":0.08},{"p":"b","q":0.18,"y":0.085},{"p":"b","q":0.2,"y":0.09},{"p":"b","q":0.22,"y":0.097},{"p":"b","q":0.24,"y":0.105},{"p":"b","q":0.26,"y":0.112},{"p":"b","q":0.28,"y":0.12},{"p":"b","q":0.3,"y":0.13},{"p":"b","q":0.32,"y":0.14},{"p":"b","q":0.34,"y":0.155},{"p":"b","q":0.36,"y":0.165},{"p":"b","q":0.38,"y":0.18},{"p":"b","q":0.4,"y":0.2},{"p":"b","q":0.42,"y":0.215},{"p":"b","q":0.44,"y":0.235},{"p":"b","q":0.46,"y":0.26},{"p":"b","q":0.48,"y":0.28},{"p":"b","q":0.5,"y":0.31},{"p":"b","q":0.52,"y":0.335},{"p":"b","q":0.54,"y":0.375},{"p":"b","q":0.56,"y":0.41},{"p":"b","q":0.58,"y":0.45},{"p":"b","q":0.6,"y":0.5},{"p":"b","q":0.62,"y":0.55},{"p":"b","q":0.64,"y":0.62},{"p":"b","q":0.66,"y":0.68},{"p":"b","q":0.68,"y":0.77},{"p":"b","q":0.7,"y":0.84},{"p":"b","q":0.72,"y":0.95},{"p":"b","q":0.74,"y":1.02},{"p":"b","q":0.76,"y":1.12},{"p":"b","q":0.78,"y":1.18},{"p":"b","q":0.8,"y":1.27},{"p":"b","q":0.82,"y":1.33},{"p":"b","q":0.84,"y":1.38},{"p":"b","q":0.86,"y":1.42},{"p":"b","q":0.88,"y":1.4},{"p":"b","q":0.895,"y":1.49},{"p":"b","q":0.91,"y":1.44},{"p":"b","q":0.925,"y":1.38},{"p":"b","q":0.94,"y":1.42},{"p":"b","q":0.96,"y":1.36},{"p":"b","q":0.98,"y":1.31},{"p":"b","q":1.0,"y":1.3},{"p":"b","q":1.02,"y":1.26},{"p":"b","q":1.04,"y":1.23},{"p":"b","q":1.06,"y":1.2},{"p":"b","q":1.08,"y":1.15},{"p":"b","q":1.1,"y":1.13},{"p":"b","q":1.12,"y":1.06},{"p":"b","q":1.14,"y":1.05},{"p":"b","q":1.16,"y":1.03},{"p":"b","q":1.18,"y":0.98},{"p":"b","q":1.2,"y":1.0},{"p":"b","q":1.22,"y":0.95},{"p":"b","q":1.24,"y":0.96},{"p":"b","q":1.26,"y":0.92},{"p":"b","q":1.28,"y":0.94},{"p":"b","q":1.3,"y":0.88},{"p":"b","q":1.32,"y":0.91},{"p":"b","q":1.34,"y":0.87},{"p":"b","q":1.36,"y":0.9},{"p":"b","q":1.38,"y":0.92},{"p":"b","q":1.4,"y":0.88},{"p":"b","q":1.42,"y":0.91},{"p":"b","q":1.44,"y":0.86},{"p":"b","q":1.46,"y":0.9},{"p":"b","q":1.48,"y":0.93},{"p":"b","q":1.5,"y":0.89},{"p":"b","q":1.52,"y":0.92},{"p":"b","q":1.54,"y":0.95},{"p":"b","q":1.56,"y":0.91},{"p":"b","q":1.58,"y":0.96},{"p":"b","q":1.6,"y":0.93},{"p":"b","q":1.62,"y":0.97},{"p":"b","q":1.64,"y":0.94},{"p":"b","q":1.66,"y":0.99},{"p":"b","q":1.68,"y":0.97},{"p":"b","q":1.7,"y":1.02},{"p":"b","q":1.72,"y":0.99},{"p":"b","q":1.74,"y":1.01},{"p":"b","q":1.76,"y":1.04},{"p":"b","q":1.78,"y":1.0},{"p":"b","q":1.8,"y":1.05},{"p":"b","q":1.82,"y":1.02},{"p":"b","q":1.84,"y":1.06},{"p":"b","q":1.86,"y":1.01},{"p":"b","q":1.88,"y":1.05},{"p":"b","q":1.9,"y":1.03},{"p":"b","q":1.92,"y":1.07},{"p":"b","q":1.94,"y":1.02},{"p":"b","q":1.96,"y":1.08},{"p":"b","q":1.98,"y":1.04},{"p":"b","q":2.0,"y":1.01},{"p":"b","q":2.02,"y":1.05},{"p":"b","q":2.04,"y":1.02},{"p":"b","q":2.06,"y":1.04},{"p":"b","q":2.08,"y":1.0},{"p":"b","q":2.1,"y":1.03},{"p":"b","q":2.12,"y":1.01},{"p":"b","q":2.14,"y":1.04},{"p":"b","q":2.16,"y":0.99},{"p":"b","q":2.18,"y":1.02},{"p":"b","q":2.2,"y":1.0},{"p":"b","q":2.22,"y":1.06},{"p":"b","q":2.24,"y":1.02},{"p":"b","q":2.26,"y":0.99},{"p":"b","q":2.28,"y":1.01},{"p":"b","q":2.3,"y":0.97},{"p":"b","q":2.32,"y":1.0},{"p":"b","q":2.34,"y":1.02},{"p":"b","q":2.36,"y":0.96},{"p":"b","q":2.38,"y":1.01},{"p":"b","q":2.4,"y":0.98},{"p":"b","q":2.42,"y":0.95},{"p":"b","q":2.44,"y":1.0},{"p":"b","q":2.46,"y":1.03},{"p":"b","q":2.48,"y":0.98},{"p":"b","q":2.5,"y":0.93},
{"p":"b","q":0.87,"y":1.4},{"p":"b","q":0.91,"y":1.41},{"p":"b","q":0.95,"y":1.39},{"p":"b","q":0.99,"y":1.33},{"p":"b","q":1.01,"y":1.28},{"p":"b","q":1.05,"y":1.22},{"p":"b","q":1.09,"y":1.12},{"p":"b","q":1.13,"y":1.08},{"p":"b","q":1.17,"y":0.99},{"p":"b","q":1.21,"y":0.97},{"p":"b","q":1.25,"y":0.93},{"p":"b","q":1.29,"y":0.9},{"p":"b","q":1.33,"y":0.92},{"p":"b","q":1.37,"y":0.88},{"p":"b","q":1.41,"y":0.9},{"p":"b","q":1.45,"y":0.91},{"p":"b","q":1.49,"y":0.87},{"p":"b","q":1.53,"y":0.9},{"p":"b","q":1.57,"y":0.94},{"p":"b","q":1.61,"y":0.95},{"p":"b","q":1.65,"y":0.96},{"p":"b","q":1.69,"y":1.0},{"p":"b","q":1.73,"y":0.98},{"p":"b","q":1.77,"y":1.03},{"p":"b","q":1.81,"y":1.0},{"p":"b","q":1.85,"y":1.04},{"p":"b","q":1.89,"y":1.06},{"p":"b","q":1.93,"y":1.02},{"p":"b","q":1.97,"y":1.05},{"p":"b","q":2.01,"y":1.03},{"p":"b","q":2.05,"y":1.06},{"p":"b","q":2.09,"y":1.02},{"p":"b","q":2.13,"y":1.0},{"p":"b","q":2.17,"y":1.03},{"p":"b","q":2.21,"y":0.98},{"p":"b","q":2.25,"y":1.01},{"p":"b","q":2.29,"y":1.03},{"p":"b","q":2.33,"y":0.98},{"p":"b","q":2.37,"y":1.0},{"p":"b","q":2.41,"y":1.02},{"p":"b","q":2.45,"y":0.97},{"p":"b","q":2.49,"y":1.0},
{"p":"c","q":0.02,"y":0.02},{"p":"c","q":0.04,"y":0.025},{"p":"c","q":0.06,"y":0.03},{"p":"c","q":0.08,"y":0.035},{"p":"c","q":0.1,"y":0.04},{"p":"c","q":0.12,"y":0.043},{"p":"c","q":0.14,"y":0.046},{"p":"c","q":0.16,"y":0.05},{"p":"c","q":0.18,"y":0.052},{"p":"c","q":0.2,"y":0.055},{"p":"c","q":0.22,"y":0.058},{"p":"c","q":0.24,"y":0.062},{"p":"c","q":0.26,"y":0.066},{"p":"c","q":0.28,"y":0.072},{"p":"c","q":0.3,"y":0.078},{"p":"c","q":0.32,"y":0.085},{"p":"c","q":0.34,"y":0.093},{"p":"c","q":0.36,"y":0.1},{"p":"c","q":0.38,"y":0.11},{"p":"c","q":0.4,"y":0.12},{"p":"c","q":0.42,"y":0.135},{"p":"c","q":0.44,"y":0.15},{"p":"c","q":0.46,"y":0.17},{"p":"c","q":0.48,"y":0.19},{"p":"c","q":0.5,"y":0.21},{"p":"c","q":0.52,"y":0.235},{"p":"c","q":0.54,"y":0.265},{"p":"c","q":0.56,"y":0.3},{"p":"c","q":0.58,"y":0.35},{"p":"c","q":0.6,"y":0.41},{"p":"c","q":0.62,"y":0.47},{"p":"c","q":0.64,"y":0.55},{"p":"c","q":0.66,"y":0.65},{"p":"c","q":0.68,"y":0.76},{"p":"c","q":0.7,"y":0.9},{"p":"c","q":0.72,"y":1.05},{"p":"c","q":0.74,"y":1.2},{"p":"c","q":0.76,"y":1.38},{"p":"c","q":0.775,"y":1.48},{"p":"c","q":0.79,"y":1.55},{"p":"c","q":0.8,"y":1.6},{"p":"c","q":0.815,"y":1.7},{"p":"c","q":0.83,"y":1.78},{"p":"c","q":0.845,"y":1.84},{"p":"c","q":0.86,"y":1.8},{"p":"c","q":0.875,"y":1.75},{"p":"c","q":0.89,"y":1.72},{"p":"c","q":0.9,"y":1.66},{"p":"c","q":0.92,"y":1.6},{"p":"c","q":0.935,"y":1.52},{"p":"c","q":0.95,"y":1.45},{"p":"c","q":0.97,"y":1.34},{"p":"c","q":0.99,"y":1.27},{"p":"c","q":1.01,"y":1.2},{"p":"c","q":1.03,"y":1.12},{"p":"c","q":1.05,"y":1.05},{"p":"c","q":1.07,"y":1.02},{"p":"c","q":1.09,"y":0.97},{"p":"c","q":1.11,"y":0.93},{"p":"c","q":1.13,"y":0.9},{"p":"c","q":1.15,"y":0.87},{"p":"c","q":1.17,"y":0.85},{"p":"c","q":1.19,"y":0.83},{"p":"c","q":1.21,"y":0.82},{"p":"c","q":1.23,"y":0.8},{"p":"c","q":1.25,"y":0.79},{"p":"c","q":1.27,"y":0.78},{"p":"c","q":1.29,"y":0.8},{"p":"c","q":1.31,"y":0.77},{"p":"c","q":1.33,"y":0.82},{"p":"c","q":1.35,"y":0.8},{"p":"c","q":1.37,"y":0.84},{"p":"c","q":1.39,"y":0.82},{"p":"c","q":1.41,"y":0.86},{"p":"c","q":1.43,"y":0.84},{"p":"c","q":1.45,"y":0.89},{"p":"c","q":1.47,"y":0.87},{"p":"c","q":1.49,"y":0.92},{"p":"c","q":1.51,"y":0.95},{"p":"c","q":1.53,"y":0.94},{"p":"c","q":1.55,"y":0.99},{"p":"c","q":1.57,"y":1.02},{"p":"c","q":1.59,"y":0.98},{"p":"c","q":1.61,"y":1.04},{"p":"c","q":1.63,"y":1.06},{"p":"c","q":1.65,"y":1.03},{"p":"c","q":1.67,"y":1.08},{"p":"c","q":1.69,"y":1.06},{"p":"c","q":1.71,"y":1.1},{"p":"c","q":1.73,"y":1.08},{"p":"c","q":1.75,"y":1.12},{"p":"c","q":1.77,"y":1.09},{"p":"c","q":1.79,"y":1.13},{"p":"c","q":1.81,"y":1.07},{"p":"c","q":1.83,"y":1.02},{"p":"c","q":1.85,"y":1.1},{"p":"c","q":1.87,"y":1.06},{"p":"c","q":1.89,"y":1.09},{"p":"c","q":1.91,"y":1.04},{"p":"c","q":1.93,"y":1.07},{"p":"c","q":1.95,"y":1.05},{"p":"c","q":1.97,"y":1.02},{"p":"c","q":1.99,"y":1.04},{"p":"c","q":2.01,"y":1.0},{"p":"c","q":2.03,"y":1.03},{"p":"c","q":2.05,"y":0.99},{"p":"c","q":2.07,"y":1.02},{"p":"c","q":2.09,"y":0.97},{"p":"c","q":2.11,"y":1.01},{"p":"c","q":2.13,"y":0.96},{"p":"c","q":2.15,"y":1.0},{"p":"c","q":2.17,"y":0.95},{"p":"c","q":2.19,"y":0.99},{"p":"c","q":2.21,"y":0.97},{"p":"c","q":2.23,"y":1.02},{"p":"c","q":2.25,"y":0.94},{"p":"c","q":2.27,"y":0.98},{"p":"c","q":2.29,"y":0.96},{"p":"c","q":2.31,"y":0.93},{"p":"c","q":2.33,"y":0.99},{"p":"c","q":2.35,"y":0.96},{"p":"c","q":2.37,"y":1.01},{"p":"c","q":2.39,"y":0.95},{"p":"c","q":2.41,"y":0.98},{"p":"c","q":2.43,"y":0.94},{"p":"c","q":2.45,"y":1.0},{"p":"c","q":2.47,"y":0.97},{"p":"c","q":2.49,"y":1.01},
{"p":"c","q":1.02,"y":1.15},{"p":"c","q":1.06,"y":1.07},{"p":"c","q":1.1,"y":0.99},{"p":"c","q":1.14,"y":0.91},{"p":"c","q":1.18,"y":0.86},{"p":"c","q":1.22,"y":0.84},{"p":"c","q":1.26,"y":0.81},{"p":"c","q":1.3,"y":0.82},{"p":"c","q":1.34,"y":0.79},{"p":"c","q":1.38,"y":0.81},{"p":"c","q":1.42,"y":0.84},{"p":"c","q":1.46,"y":0.86},{"p":"c","q":1.5,"y":0.91},{"p":"c","q":1.54,"y":0.97},{"p":"c","q":1.58,"y":1.0},{"p":"c","q":1.62,"y":1.02},{"p":"c","q":1.66,"y":1.07},{"p":"c","q":1.7,"y":1.07},{"p":"c","q":1.74,"y":1.11},{"p":"c","q":1.78,"y":1.1},{"p":"c","q":1.82,"y":1.12},{"p":"c","q":1.86,"y":1.08},{"p":"c","q":1.9,"y":1.07},{"p":"c","q":1.94,"y":1.04},{"p":"c","q":1.98,"y":1.06},{"p":"c","q":2.02,"y":1.02},{"p":"c","q":2.06,"y":1.0},{"p":"c","q":2.1,"y":1.0},{"p":"c","q":2.14,"y":0.98},{"p":"c","q":2.18,"y":0.97},{"p":"c","q":2.22,"y":0.99},{"p":"c","q":2.26,"y":0.97},{"p":"c","q":2.3,"y":0.99},{"p":"c","q":2.34,"y":0.95},{"p":"c","q":2.38,"y":0.98},{"p":"c","q":2.42,"y":0.99},{"p":"c","q":2.46,"y":0.96},{"p":"c","q":2.5,"y":1.0},
{"p":"d","q":0.02,"y":0.01},{"p":"d","q":0.05,"y":0.015},{"p":"d","q":0.08,"y":0.02},{"p":"d","q":0.11,"y":0.024},{"p":"d","q":0.14,"y":0.028},{"p":"d","q":0.17,"y":0.032},{"p":"d","q":0.2,"y":0.036},{"p":"d","q":0.23,"y":0.04},{"p":"d","q":0.26,"y":0.045},{"p":"d","q":0.29,"y":0.05},{"p":"d","q":0.32,"y":0.056},{"p":"d","q":0.35,"y":0.063},{"p":"d","q":0.38,"y":0.072},{"p":"d","q":0.41,"y":0.082},{"p":"d","q":0.44,"y":0.095},{"p":"d","q":0.47,"y":0.11},{"p":"d","q":0.5,"y":0.13},{"p":"d","q":0.52,"y":0.15},{"p":"d","q":0.54,"y":0.17},{"p":"d","q":0.56,"y":0.2},{"p":"d","q":0.58,"y":0.24},{"p":"d","q":0.6,"y":0.29},{"p":"d","q":0.62,"y":0.34},{"p":"d","q":0.64,"y":0.41},{"p":"d","q":0.66,"y":0.5},{"p":"d","q":0.68,"y":0.62},{"p":"d","q":0.7,"y":0.8},{"p":"d","q":0.715,"y":1.0},{"p":"d","q":0.73,"y":1.15},{"p":"d","q":0.745,"y":1.35},{"p":"d","q":0.76,"y":1.55},{"p":"d","q":0.775,"y":1.8},{"p":"d","q":0.79,"y":2.0},{"p":"d","q":0.805,"y":2.25},{"p":"d","q":0.815,"y":2.42},{"p":"d","q":0.825,"y":2.52},{"p":"d","q":0.835,"y":2.5},{"p":"d","q":0.845,"y":2.45},{"p":"d","q":0.855,"y":2.38},{"p":"d","q":0.865,"y":2.3},{"p":"d","q":0.875,"y":2.2},{"p":"d","q":0.885,"y":2.08},{"p":"d","q":0.895,"y":1.98},{"p":"d","q":0.905,"y":1.85},{"p":"d","q":0.92,"y":1.72},{"p":"d","q":0.935,"y":1.58},{"p":"d","q":0.95,"y":1.45},{"p":"d","q":0.965,"y":1.38},{"p":"d","q":0.98,"y":1.25},{"p":"d","q":1.0,"y":1.15},{"p":"d","q":1.02,"y":1.06},{"p":"d","q":1.04,"y":0.98},{"p":"d","q":1.06,"y":0.9},{"p":"d","q":1.08,"y":0.85},{"p":"d","q":1.1,"y":0.8},{"p":"d","q":1.12,"y":0.76},{"p":"d","q":1.14,"y":0.73},{"p":"d","q":1.16,"y":0.7},{"p":"d","q":1.18,"y":0.68},{"p":"d","q":1.2,"y":0.67},{"p":"d","q":1.22,"y":0.65},{"p":"d","q":1.24,"y":0.66},{"p":"d","q":1.26,"y":0.68},{"p":"d","q":1.28,"y":0.66},{"p":"d","q":1.3,"y":0.7},{"p":"d","q":1.32,"y":0.69},{"p":"d","q":1.34,"y":0.73},{"p":"d","q":1.36,"y":0.72},{"p":"d","q":1.38,"y":0.76},{"p":"d","q":1.4,"y":0.78},{"p":"d","q":1.42,"y":0.82},{"p":"d","q":1.44,"y":0.85},{"p":"d","q":1.46,"y":0.88},{"p":"d","q":1.48,"y":0.92},{"p":"d","q":1.5,"y":0.96},{"p":"d","q":1.52,"y":1.0},{"p":"d","q":1.54,"y":1.04},{"p":"d","q":1.56,"y":1.08},{"p":"d","q":1.58,"y":1.12},{"p":"d","q":1.6,"y":1.15},{"p":"d","q":1.62,"y":1.2},{"p":"d","q":1.64,"y":1.24},{"p":"d","q":1.66,"y":1.22},{"p":"d","q":1.68,"y":1.2},{"p":"d","q":1.7,"y":1.23},{"p":"d","q":1.72,"y":1.25},{"p":"d","q":1.74,"y":1.14},{"p":"d","q":1.76,"y":1.12},{"p":"d","q":1.78,"y":1.11},{"p":"d","q":1.8,"y":1.09},{"p":"d","q":1.82,"y":1.07},{"p":"d","q":1.84,"y":1.05},{"p":"d","q":1.86,"y":1.04},{"p":"d","q":1.88,"y":1.02},{"p":"d","q":1.9,"y":1.0},{"p":"d","q":1.92,"y":0.99},{"p":"d","q":1.94,"y":0.97},{"p":"d","q":1.96,"y":0.96},{"p":"d","q":1.98,"y":0.95},{"p":"d","q":2.0,"y":0.94},{"p":"d","q":2.02,"y":0.93},{"p":"d","q":2.04,"y":0.95},{"p":"d","q":2.06,"y":0.92},{"p":"d","q":2.08,"y":0.9},{"p":"d","q":2.1,"y":0.93},{"p":"d","q":2.12,"y":0.91},{"p":"d","q":2.14,"y":0.89},{"p":"d","q":2.16,"y":0.92},{"p":"d","q":2.18,"y":0.94},{"p":"d","q":2.2,"y":0.92},{"p":"d","q":2.22,"y":0.95},{"p":"d","q":2.24,"y":0.93},{"p":"d","q":2.26,"y":0.96},{"p":"d","q":2.28,"y":0.95},{"p":"d","q":2.3,"y":0.97},{"p":"d","q":2.32,"y":0.99},{"p":"d","q":2.34,"y":0.98},{"p":"d","q":2.36,"y":1.0},{"p":"d","q":2.38,"y":1.02},{"p":"d","q":2.4,"y":1.01},{"p":"d","q":2.42,"y":1.03},{"p":"d","q":2.44,"y":1.05},{"p":"d","q":2.46,"y":1.04},{"p":"d","q":2.48,"y":1.02},{"p":"d","q":2.5,"y":0.97},
{"p":"d","q":1.03,"y":1.02},{"p":"d","q":1.07,"y":0.87},{"p":"d","q":1.11,"y":0.78},{"p":"d","q":1.15,"y":0.71},{"p":"d","q":1.19,"y":0.66},{"p":"d","q":1.23,"y":0.67},{"p":"d","q":1.27,"y":0.65},{"p":"d","q":1.31,"y":0.68},{"p":"d","q":1.35,"y":0.71},{"p":"d","q":1.39,"y":0.75},{"p":"d","q":1.43,"y":0.84},{"p":"d","q":1.47,"y":0.9},{"p":"d","q":1.51,"y":0.97},{"p":"d","q":1.55,"y":1.06},{"p":"d","q":1.59,"y":1.14},{"p":"d","q":1.63,"y":1.18},{"p":"d","q":1.67,"y":1.23},{"p":"d","q":1.71,"y":1.21},{"p":"d","q":1.75,"y":1.16},{"p":"d","q":1.79,"y":1.1},{"p":"d","q":1.83,"y":1.06},{"p":"d","q":1.87,"y":1.01},{"p":"d","q":1.91,"y":0.98},{"p":"d","q":1.95,"y":0.95},{"p":"d","q":1.99,"y":0.93},{"p":"d","q":2.03,"y":0.91},{"p":"d","q":2.07,"y":0.93},{"p":"d","q":2.11,"y":0.9},{"p":"d","q":2.15,"y":0.9},{"p":"d","q":2.19,"y":0.91},{"p":"d","q":2.23,"y":0.94},{"p":"d","q":2.27,"y":0.94},{"p":"d","q":2.31,"y":0.97},{"p":"d","q":2.35,"y":0.99},{"p":"d","q":2.39,"y":0.99},{"p":"d","q":2.43,"y":1.02},{"p":"d","q":2.47,"y":1.05},{"p":"d","q":2.49,"y":1.03},
{"p":"e","q":0.02,"y":0.012},{"p":"e","q":0.06,"y":0.014},{"p":"e","q":0.1,"y":0.017},{"p":"e","q":0.14,"y":0.02},{"p":"e","q":0.18,"y":0.023},{"p":"e","q":0.22,"y":0.027},{"p":"e","q":0.26,"y":0.031},{"p":"e","q":0.3,"y":0.036},{"p":"e","q":0.34,"y":0.042},{"p":"e","q":0.38,"y":0.05},{"p":"e","q":0.42,"y":0.06},{"p":"e","q":0.46,"y":0.072},{"p":"e","q":0.5,"y":0.09},{"p":"e","q":0.53,"y":0.11},{"p":"e","q":0.56,"y":0.14},{"p":"e","q":0.59,"y":0.18},{"p":"e","q":0.62,"y":0.24},{"p":"e","q":0.64,"y":0.3},{"p":"e","q":0.66,"y":0.38},{"p":"e","q":0.68,"y":0.48},{"p":"e","q":0.7,"y":0.62},{"p":"e","q":0.715,"y":0.85},{"p":"e","q":0.73,"y":1.15},{"p":"e","q":0.74,"y":1.45},{"p":"e","q":0.75,"y":1.75},{"p":"e","q":0.76,"y":2.05},{"p":"e","q":0.77,"y":2.3},{"p":"e","q":0.78,"y":2.55},{"p":"e","q":0.79,"y":2.75},{"p":"e","q":0.8,"y":2.9},{"p":"e","q":0.81,"y":2.95},{"p":"e","q":0.82,"y":3.05},{"p":"e","q":0.83,"y":3.1},{"p":"e","q":0.84,"y":3.0},{"p":"e","q":0.85,"y":2.9},{"p":"e","q":0.86,"y":2.7},{"p":"e","q":0.87,"y":2.45},{"p":"e","q":0.88,"y":2.25},{"p":"e","q":0.89,"y":2.05},{"p":"e","q":0.9,"y":1.85},{"p":"e","q":0.91,"y":1.65},{"p":"e","q":0.92,"y":1.5},{"p":"e","q":0.935,"y":1.3},{"p":"e","q":0.95,"y":1.15},{"p":"e","q":0.965,"y":1.05},{"p":"e","q":0.98,"y":0.95},{"p":"e","q":1.0,"y":0.87},{"p":"e","q":1.02,"y":0.8},{"p":"e","q":1.04,"y":0.74},{"p":"e","q":1.06,"y":0.7},{"p":"e","q":1.08,"y":0.66},{"p":"e","q":1.1,"y":0.63},{"p":"e","q":1.12,"y":0.61},{"p":"e","q":1.14,"y":0.59},{"p":"e","q":1.16,"y":0.58},{"p":"e","q":1.18,"y":0.57},{"p":"e","q":1.2,"y":0.58},{"p":"e","q":1.22,"y":0.59},{"p":"e","q":1.24,"y":0.6},{"p":"e","q":1.26,"y":0.61},{"p":"e","q":1.28,"y":0.63},{"p":"e","q":1.3,"y":0.64},{"p":"e","q":1.32,"y":0.67},{"p":"e","q":1.34,"y":0.7},{"p":"e","q":1.36,"y":0.73},{"p":"e","q":1.38,"y":0.77},{"p":"e","q":1.4,"y":0.8},{"p":"e","q":1.42,"y":0.85},{"p":"e","q":1.44,"y":0.89},{"p":"e","q":1.46,"y":0.94},{"p":"e","q":1.48,"y":0.98},{"p":"e","q":1.5,"y":1.04},{"p":"e","q":1.52,"y":1.1},{"p":"e","q":1.54,"y":1.17},{"p":"e","q":1.56,"y":1.22},{"p":"e","q":1.58,"y":1.26},{"p":"e","q":1.6,"y":1.3},{"p":"e","q":1.62,"y":1.33},{"p":"e","q":1.64,"y":1.32},{"p":"e","q":1.66,"y":1.3},{"p":"e","q":1.68,"y":1.27},{"p":"e","q":1.7,"y":1.24},{"p":"e","q":1.72,"y":1.2},{"p":"e","q":1.74,"y":1.16},{"p":"e","q":1.76,"y":1.12},{"p":"e","q":1.78,"y":1.08},{"p":"e","q":1.8,"y":1.05},{"p":"e","q":1.82,"y":1.02},{"p":"e","q":1.84,"y":0.99},{"p":"e","q":1.86,"y":0.96},{"p":"e","q":1.88,"y":0.94},{"p":"e","q":1.9,"y":0.92},{"p":"e","q":1.92,"y":0.9},{"p":"e","q":1.94,"y":0.89},{"p":"e","q":1.96,"y":0.88},{"p":"e","q":1.98,"y":0.87},{"p":"e","q":2.0,"y":0.86},{"p":"e","q":2.03,"y":0.85},{"p":"e","q":2.06,"y":0.86},{"p":"e","q":2.09,"y":0.87},{"p":"e","q":2.12,"y":0.89},{"p":"e","q":2.15,"y":0.91},{"p":"e","q":2.18,"y":0.93},{"p":"e","q":2.21,"y":0.96},{"p":"e","q":2.24,"y":0.99},{"p":"e","q":2.27,"y":1.02},{"p":"e","q":2.3,"y":1.05},{"p":"e","q":2.33,"y":1.07},{"p":"e","q":2.36,"y":1.1},{"p":"e","q":2.39,"y":1.11},{"p":"e","q":2.42,"y":1.1},{"p":"e","q":2.45,"y":1.09},{"p":"e","q":2.48,"y":1.09},{"p":"e","q":2.51,"y":1.08},{"p":"e","q":2.54,"y":1.1},{"p":"e","q":2.57,"y":1.07},{"p":"e","q":2.6,"y":1.06},{"p":"e","q":2.63,"y":1.08},{"p":"e","q":2.66,"y":1.05},{"p":"e","q":2.69,"y":1.03},{"p":"e","q":2.72,"y":1.02},{"p":"e","q":2.75,"y":1.01},{"p":"e","q":2.78,"y":1.0},{"p":"e","q":2.81,"y":0.99},{"p":"e","q":2.84,"y":0.98},{"p":"e","q":2.87,"y":0.99},{"p":"e","q":2.9,"y":0.97},{"p":"e","q":2.93,"y":0.98},{"p":"e","q":2.96,"y":1.0},{"p":"e","q":2.99,"y":0.98},
{"p":"e","q":1.015,"y":0.84},{"p":"e","q":1.045,"y":0.76},{"p":"e","q":1.075,"y":0.68},{"p":"e","q":1.105,"y":0.64},{"p":"e","q":1.135,"y":0.6},{"p":"e","q":1.165,"y":0.6},{"p":"e","q":1.195,"y":0.56},{"p":"e","q":1.225,"y":0.6},{"p":"e","q":1.255,"y":0.62},{"p":"e","q":1.285,"y":0.61},{"p":"e","q":1.315,"y":0.66},{"p":"e","q":1.345,"y":0.72},{"p":"e","q":1.375,"y":0.74},{"p":"e","q":1.405,"y":0.83},{"p":"e","q":1.435,"y":0.86},{"p":"e","q":1.465,"y":0.96},{"p":"e","q":1.495,"y":1.0},{"p":"e","q":1.525,"y":1.12},{"p":"e","q":1.555,"y":1.2},{"p":"e","q":1.585,"y":1.29},{"p":"e","q":1.615,"y":1.3},{"p":"e","q":1.645,"y":1.35},{"p":"e","q":1.675,"y":1.26},{"p":"e","q":1.705,"y":1.25},{"p":"e","q":1.735,"y":1.17},{"p":"e","q":1.765,"y":1.11},{"p":"e","q":1.795,"y":1.07},{"p":"e","q":1.825,"y":1.0},{"p":"e","q":1.855,"y":0.98},{"p":"e","q":1.885,"y":0.93},{"p":"e","q":1.915,"y":0.92},{"p":"e","q":1.945,"y":0.87},{"p":"e","q":1.975,"y":0.89},{"p":"e","q":2.005,"y":0.85},{"p":"e","q":2.045,"y":0.87},{"p":"e","q":2.075,"y":0.85},{"p":"e","q":2.105,"y":0.89},{"p":"e","q":2.135,"y":0.88},{"p":"e","q":2.165,"y":0.93},{"p":"e","q":2.195,"y":0.94},{"p":"e","q":2.225,"y":0.98},{"p":"e","q":2.255,"y":1.0},{"p":"e","q":2.285,"y":1.05},{"p":"e","q":2.315,"y":1.04},{"p":"e","q":2.345,"y":1.1},{"p":"e","q":2.375,"y":1.08},{"p":"e","q":2.405,"y":1.13},{"p":"e","q":2.435,"y":1.08},{"p":"e","q":2.465,"y":1.11},{"p":"e","q":2.495,"y":1.06},{"p":"e","q":2.525,"y":1.09},{"p":"e","q":2.555,"y":1.06},{"p":"e","q":2.585,"y":1.09},{"p":"e","q":2.615,"y":1.04},{"p":"e","q":2.645,"y":1.06},{"p":"e","q":2.675,"y":1.02},{"p":"e","q":2.705,"y":1.04},{"p":"e","q":2.735,"y":0.99},{"p":"e","q":2.765,"y":1.02},{"p":"e","q":2.795,"y":0.98},{"p":"e","q":2.825,"y":1.0},{"p":"e","q":2.855,"y":0.96},{"p":"e","q":2.885,"y":1.0},{"p":"e","q":2.915,"y":0.96},{"p":"e","q":2.945,"y":0.99},{"p":"e","q":2.975,"y":1.0},
{"p":"f","q":0.02,"y":0.005},{"p":"f","q":0.06,"y":0.007},{"p":"f","q":0.1,"y":0.009},{"p":"f","q":0.14,"y":0.011},{"p":"f","q":0.18,"y":0.014},{"p":"f","q":0.22,"y":0.017},{"p":"f","q":0.26,"y":0.02},{"p":"f","q":0.3,"y":0.024},{"p":"f","q":0.34,"y":0.028},{"p":"f","q":0.38,"y":0.033},{"p":"f","q":0.42,"y":0.04},{"p":"f","q":0.46,"y":0.05},{"p":"f","q":0.5,"y":0.062},{"p":"f","q":0.53,"y":0.075},{"p":"f","q":0.56,"y":0.095},{"p":"f","q":0.59,"y":0.13},{"p":"f","q":0.62,"y":0.18},{"p":"f","q":0.64,"y":0.24},{"p":"f","q":0.66,"y":0.32},{"p":"f","q":0.68,"y":0.45},{"p":"f","q":0.695,"y":0.6},{"p":"f","q":0.71,"y":0.85},{"p":"f","q":0.72,"y":1.05},{"p":"f","q":0.73,"y":1.25},{"p":"f","q":0.74,"y":1.45},{"p":"f","q":0.75,"y":1.7},{"p":"f","q":0.76,"y":2.15},{"p":"f","q":0.77,"y":2.6},{"p":"f","q":0.78,"y":2.95},{"p":"f","q":0.79,"y":3.1},{"p":"f","q":0.8,"y":3.45},{"p":"f","q":0.81,"y":3.65},{"p":"f","q":0.815,"y":3.8},{"p":"f","q":0.825,"y":3.85},{"p":"f","q":0.835,"y":3.7},{"p":"f","q":0.845,"y":3.35},{"p":"f","q":0.855,"y":3.0},{"p":"f","q":0.865,"y":2.65},{"p":"f","q":0.875,"y":2.4},{"p":"f","q":0.885,"y":2.15},{"p":"f","q":0.895,"y":1.92},{"p":"f","q":0.905,"y":1.7},{"p":"f","q":0.92,"y":1.45},{"p":"f","q":0.935,"y":1.28},{"p":"f","q":0.95,"y":1.15},{"p":"f","q":0.97,"y":1.0},{"p":"f","q":0.99,"y":0.88},{"p":"f","q":1.01,"y":0.79},{"p":"f","q":1.03,"y":0.72},{"p":"f","q":1.05,"y":0.66},{"p":"f","q":1.07,"y":0.61},{"p":"f","q":1.09,"y":0.58},{"p":"f","q":1.11,"y":0.55},{"p":"f","q":1.13,"y":0.53},{"p":"f","q":1.15,"y":0.52},{"p":"f","q":1.17,"y":0.51},{"p":"f","q":1.19,"y":0.5},{"p":"f","q":1.21,"y":0.5},{"p":"f","q":1.23,"y":0.51},{"p":"f","q":1.25,"y":0.52},{"p":"f","q":1.27,"y":0.54},{"p":"f","q":1.29,"y":0.56},{"p":"f","q":1.31,"y":0.58},{"p":"f","q":1.33,"y":0.61},{"p":"f","q":1.35,"y":0.65},{"p":"f","q":1.37,"y":0.69},{"p":"f","q":1.39,"y":0.73},{"p":"f","q":1.41,"y":0.78},{"p":"f","q":1.43,"y":0.83},{"p":"f","q":1.45,"y":0.88},{"p":"f","q":1.47,"y":0.94},{"p":"f","q":1.49,"y":1.0},{"p":"f","q":1.51,"y":1.06},{"p":"f","q":1.53,"y":1.12},{"p":"f","q":1.55,"y":1.18},{"p":"f","q":1.57,"y":1.24},{"p":"f","q":1.59,"y":1.3},{"p":"f","q":1.61,"y":1.34},{"p":"f","q":1.63,"y":1.37},{"p":"f","q":1.65,"y":1.39},{"p":"f","q":1.67,"y":1.4},{"p":"f","q":1.69,"y":1.38},{"p":"f","q":1.71,"y":1.35},{"p":"f","q":1.73,"y":1.3},{"p":"f","q":1.75,"y":1.25},{"p":"f","q":1.77,"y":1.19},{"p":"f","q":1.79,"y":1.12},{"p":"f","q":1.81,"y":1.06},{"p":"f","q":1.83,"y":1.0},{"p":"f","q":1.85,"y":0.96},{"p":"f","q":1.87,"y":0.92},{"p":"f","q":1.89,"y":0.89},{"p":"f","q":1.91,"y":0.86},{"p":"f","q":1.93,"y":0.84},{"p":"f","q":1.95,"y":0.82},{"p":"f","q":1.97,"y":0.8},{"p":"f","q":1.99,"y":0.79},{"p":"f","q":2.02,"y":0.79},{"p":"f","q":2.05,"y":0.8},{"p":"f","q":2.08,"y":0.82},{"p":"f","q":2.11,"y":0.85},{"p":"f","q":2.14,"y":0.88},{"p":"f","q":2.17,"y":0.92},{"p":"f","q":2.2,"y":0.96},{"p":"f","q":2.23,"y":1.0},{"p":"f","q":2.26,"y":1.04},{"p":"f","q":2.29,"y":1.07},{"p":"f","q":2.32,"y":1.1},{"p":"f","q":2.35,"y":1.12},{"p":"f","q":2.38,"y":1.14},{"p":"f","q":2.41,"y":1.15},{"p":"f","q":2.44,"y":1.15},{"p":"f","q":2.47,"y":1.14},{"p":"f","q":2.5,"y":1.13},{"p":"f","q":2.53,"y":1.12},{"p":"f","q":2.56,"y":1.1},{"p":"f","q":2.59,"y":1.08},{"p":"f","q":2.62,"y":1.06},{"p":"f","q":2.65,"y":1.04},{"p":"f","q":2.68,"y":1.02},{"p":"f","q":2.71,"y":1.0},{"p":"f","q":2.74,"y":0.99},{"p":"f","q":2.77,"y":0.98},{"p":"f","q":2.8,"y":0.97},{"p":"f","q":2.83,"y":0.97},{"p":"f","q":2.86,"y":0.98},{"p":"f","q":2.89,"y":0.99},{"p":"f","q":2.92,"y":1.0},{"p":"f","q":2.95,"y":0.99},{"p":"f","q":2.98,"y":0.98},
{"p":"f","q":1.0,"y":0.83},{"p":"f","q":1.04,"y":0.7},{"p":"f","q":1.08,"y":0.6},{"p":"f","q":1.12,"y":0.54},{"p":"f","q":1.16,"y":0.5},{"p":"f","q":1.2,"y":0.52},{"p":"f","q":1.24,"y":0.5},{"p":"f","q":1.28,"y":0.55},{"p":"f","q":1.32,"y":0.6},{"p":"f","q":1.36,"y":0.67},{"p":"f","q":1.4,"y":0.75},{"p":"f","q":1.44,"y":0.86},{"p":"f","q":1.48,"y":0.96},{"p":"f","q":1.52,"y":1.1},{"p":"f","q":1.56,"y":1.2},{"p":"f","q":1.6,"y":1.3},{"p":"f","q":1.64,"y":1.36},{"p":"f","q":1.68,"y":1.42},{"p":"f","q":1.72,"y":1.33},{"p":"f","q":1.76,"y":1.23},{"p":"f","q":1.8,"y":1.08},{"p":"f","q":1.84,"y":0.98},{"p":"f","q":1.88,"y":0.91},{"p":"f","q":1.92,"y":0.84},{"p":"f","q":1.96,"y":0.81},{"p":"f","q":2.0,"y":0.78},{"p":"f","q":2.04,"y":0.81},{"p":"f","q":2.07,"y":0.8},{"p":"f","q":2.1,"y":0.84},{"p":"f","q":2.13,"y":0.86},{"p":"f","q":2.16,"y":0.9},{"p":"f","q":2.19,"y":0.95},{"p":"f","q":2.22,"y":0.98},{"p":"f","q":2.25,"y":1.02},{"p":"f","q":2.28,"y":1.06},{"p":"f","q":2.31,"y":1.08},{"p":"f","q":2.34,"y":1.13},{"p":"f","q":2.37,"y":1.12},{"p":"f","q":2.4,"y":1.16},{"p":"f","q":2.43,"y":1.13},{"p":"f","q":2.46,"y":1.16},{"p":"f","q":2.49,"y":1.12},{"p":"f","q":2.52,"y":1.13},{"p":"f","q":2.55,"y":1.09},{"p":"f","q":2.58,"y":1.1},{"p":"f","q":2.61,"y":1.05},{"p":"f","q":2.64,"y":1.06},{"p":"f","q":2.67,"y":1.02},{"p":"f","q":2.7,"y":1.02},{"p":"f","q":2.73,"y":0.98},{"p":"f","q":2.76,"y":0.99},{"p":"f","q":2.79,"y":0.96},{"p":"f","q":2.82,"y":0.99},{"p":"f","q":2.85,"y":0.96},{"p":"f","q":2.88,"y":1.0},{"p":"f","q":2.91,"y":0.97},{"p":"f","q":2.94,"y":1.01},{"p":"f","q":2.97,"y":0.97},{"p":"f","q":3.0,"y":0.99}
]
},
"concat": [
{"width": 347.5, "height": 222.3, "resolve": {"axis": {"x": "independent", "y": "independent"}},
 "layer": [
  {"data": {"name": "mc"}, "transform": [{"filter": "datum.p === 'a'"}],
   "mark": {"type": "point", "shape": "circle", "filled": false, "stroke": "#000000", "strokeWidth": 0.7, "size": 42, "opacity": 1},
   "encoding": {
    "x": {"field": "q", "type": "quantitative", "scale": {"domain": [0, 2.5], "nice": false, "zero": false}, "axis": {"orient": "bottom", "values": [0,0.5,1,1.5,2,2.5], "format": "~g", "ticks": false, "labelFlush": false, "labelOverlap": false, "labelPadding": 13.5, "labelBaseline": "middle", "minExtent": 20, "maxExtent": 20, "title": "qR", "titlePadding": 5}},
    "y": {"field": "y", "type": "quantitative", "scale": {"domain": [0, 1.5], "nice": false, "zero": false}, "axis": {"orient": "left", "values": [0,0.5,1,1.5], "format": "~g", "ticks": false, "labelOverlap": false, "labelPadding": 8.6, "minExtent": 27, "maxExtent": 27, "title": "S(q)", "titlePadding": 7}}
   }},
  {"data": {"name": "curves"}, "transform": [{"filter": "datum.p === 'a'"}, {"fold": ["RY","MHNC-PY","MHNC-LB","VMHNC-PY","VMHNC-LB"], "as": ["s","y"]}, {"filter": "isValid(datum.y)"}],
   "mark": {"type": "line", "strokeWidth": 1.3},
   "encoding": {
    "x": {"field": "q", "type": "quantitative", "axis": {"orient": "top", "values": [0,0.5,1,1.5,2,2.5], "labels": false, "ticks": true, "tickSize": -6, "title": null}},
    "y": {"field": "y", "type": "quantitative", "axis": {"orient": "right", "values": [0,0.5,1,1.5], "labels": false, "ticks": true, "tickSize": -6, "title": null}},
    "color": {"field": "s", "type": "nominal", "scale": {"domain": ["MC","RY","MHNC-PY","MHNC-LB","VMHNC-PY","VMHNC-LB"], "range": ["#000000","#a020f0","#ff0000","#0000ff","#00ff00","#ffa500"]},
     "legend": {"orient": "none", "legendX": 304.1, "legendY": 131.5, "title": null, "padding": 0, "labelAlign": "right", "labelOffset": -34.6, "labelFont": "Liberation Sans", "labelFontSize": 13.5, "labelColor": "#000000", "labelLimit": 300, "rowPadding": 0.8, "symbolSize": 144, "symbolStrokeWidth": 1.2,
      "encoding": {"symbols": {
        "shape": {"value": {"expr": "datum.value === 'MC' ? 'M0.32,0L0.226,0.226L0,0.32L-0.226,0.226L-0.32,0L-0.226,-0.226L0,-0.32L0.226,-0.226Z' : datum.value === 'RY' ? 'M-3.333,0L3.333,0M0,-0.6L0,0.6' : datum.value === 'MHNC-PY' ? 'M-3.333,0L3.333,0M-0.42,-0.42L0.42,-0.42L0.42,0.42L-0.42,0.42Z' : datum.value === 'MHNC-LB' ? 'M-3.333,0L3.333,0M-0.4,-0.4L0.4,0.4M-0.4,0.4L0.4,-0.4' : datum.value === 'VMHNC-PY' ? 'M-3.333,0L3.333,0M0.27,0L0.19,0.19L0,0.27L-0.19,0.19L-0.27,0L-0.19,-0.19L0,-0.27L0.19,-0.19Z' : 'M-3.333,0L3.333,0'"}},
        "fill": {"value": {"expr": "datum.value === 'VMHNC-PY' ? '#00ff00' : 'transparent'"}},
        "stroke": {"value": {"expr": "datum.value === 'MC' ? '#000000' : datum.value === 'RY' ? '#a020f0' : datum.value === 'MHNC-PY' ? '#ff0000' : datum.value === 'MHNC-LB' ? '#0000ff' : datum.value === 'VMHNC-PY' ? '#00ff00' : '#ffa500'"}},
        "strokeWidth": {"value": 1.2},
        "opacity": {"value": 1}
      }}}}
   }},
  {"data": {"name": "curves"}, "transform": [{"filter": "datum.p === 'a'"}, {"fold": ["RY","MHNC-PY","MHNC-LB","VMHNC-PY","VMHNC-LB"], "as": ["s","y"]}, {"filter": "isValid(datum.y) && datum.s !== 'VMHNC-LB' && indexof([0,0.132,0.264,0.396,0.529,0.661,0.793,0.925,1.057,1.189,1.322,1.454,1.586,1.718,1.85,1.982,2.114,2.247,2.379,2.511,2.643,2.775,2.907], datum.q) >= 0"}],
   "mark": {"type": "point", "filled": false, "strokeWidth": 1.1, "opacity": 1},
   "encoding": {
    "x": {"field": "q", "type": "quantitative", "axis": {"orient": "bottom", "values": [0,0.5,1,1.5,2,2.5], "labels": false, "ticks": true, "tickSize": -6, "title": null}},
    "y": {"field": "y", "type": "quantitative", "axis": {"orient": "left", "values": [0,0.5,1,1.5], "labels": false, "ticks": true, "tickSize": -6, "title": null}},
    "color": {"field": "s", "type": "nominal", "scale": {"domain": ["MC","RY","MHNC-PY","MHNC-LB","VMHNC-PY","VMHNC-LB"], "range": ["#000000","#a020f0","#ff0000","#0000ff","#00ff00","#ffa500"]}, "legend": null},
    "shape": {"field": "s", "type": "nominal", "scale": {"domain": ["RY","MHNC-PY","MHNC-LB","VMHNC-PY"], "range": ["M-1,0L1,0M0,-1L0,1","square","M-1,-1L1,1M-1,1L1,-1","circle"]}, "legend": null},
    "size": {"field": "s", "type": "nominal", "scale": {"type": "ordinal", "domain": ["RY","MHNC-PY","MHNC-LB","VMHNC-PY"], "range": [64,30,36,14]}, "legend": null},
    "fill": {"condition": {"test": "datum.s === 'VMHNC-PY'", "value": "#00ff00"}, "value": "transparent"}
   }},
  {"data": {"name": "labels"}, "transform": [{"filter": "datum.p === 'a'"}], "mark": {"type": "text", "align": "left", "baseline": "middle", "font": "Liberation Sans", "fontSize": 12, "color": "#000000"},
   "encoding": {"x": {"datum": 0.15, "type": "quantitative", "axis": null}, "y": {"datum": 1.345, "type": "quantitative", "axis": null}, "text": {"field": "tag"}}},
  {"data": {"name": "labels"}, "transform": [{"filter": "datum.p === 'a'"}], "mark": {"type": "text", "align": "left", "baseline": "middle", "font": "Liberation Sans", "fontSize": 12, "color": "#000000"},
   "encoding": {"x": {"datum": 1.975, "type": "quantitative", "axis": null}, "y": {"datum": 1.345, "type": "quantitative", "axis": null}, "text": {"field": "g"}}}
 ]},
{"width": 347.5, "height": 222.3, "resolve": {"axis": {"x": "independent", "y": "independent"}},
 "layer": [
  {"data": {"name": "mc"}, "transform": [{"filter": "datum.p === 'b'"}],
   "mark": {"type": "point", "shape": "circle", "filled": false, "stroke": "#000000", "strokeWidth": 0.7, "size": 42, "opacity": 1},
   "encoding": {
    "x": {"field": "q", "type": "quantitative", "scale": {"domain": [0, 2.5], "nice": false, "zero": false}, "axis": {"orient": "bottom", "values": [0,0.5,1,1.5,2,2.5], "format": "~g", "ticks": false, "labelFlush": false, "labelOverlap": false, "labelPadding": 13.5, "labelBaseline": "middle", "minExtent": 20, "maxExtent": 20, "title": "qR", "titlePadding": 5}},
    "y": {"field": "y", "type": "quantitative", "scale": {"domain": [0, 1.5], "nice": false, "zero": false}, "axis": {"orient": "left", "values": [0,0.5,1,1.5], "format": "~g", "ticks": false, "labelOverlap": false, "labelPadding": 8.6, "minExtent": 27, "maxExtent": 27, "title": "S(q)", "titlePadding": 7}}
   }},
  {"data": {"name": "curves"}, "transform": [{"filter": "datum.p === 'b'"}, {"fold": ["RY","MHNC-PY","MHNC-LB","VMHNC-PY","VMHNC-LB"], "as": ["s","y"]}, {"filter": "isValid(datum.y)"}],
   "mark": {"type": "line", "strokeWidth": 1.3},
   "encoding": {
    "x": {"field": "q", "type": "quantitative", "axis": {"orient": "top", "values": [0,0.5,1,1.5,2,2.5], "labels": false, "ticks": true, "tickSize": -6, "title": null}},
    "y": {"field": "y", "type": "quantitative", "axis": {"orient": "right", "values": [0,0.5,1,1.5], "labels": false, "ticks": true, "tickSize": -6, "title": null}},
    "color": {"field": "s", "type": "nominal", "scale": {"domain": ["MC","RY","MHNC-PY","MHNC-LB","VMHNC-PY","VMHNC-LB"], "range": ["#000000","#a020f0","#ff0000","#0000ff","#00ff00","#ffa500"]}, "legend": null}
   }},
  {"data": {"name": "curves"}, "transform": [{"filter": "datum.p === 'b'"}, {"fold": ["RY","MHNC-PY","MHNC-LB","VMHNC-PY","VMHNC-LB"], "as": ["s","y"]}, {"filter": "isValid(datum.y) && datum.s !== 'VMHNC-LB' && indexof([0,0.132,0.264,0.396,0.529,0.661,0.793,0.925,1.057,1.189,1.322,1.454,1.586,1.718,1.85,1.982,2.114,2.247,2.379,2.511,2.643,2.775,2.907], datum.q) >= 0"}],
   "mark": {"type": "point", "filled": false, "strokeWidth": 1.1, "opacity": 1},
   "encoding": {
    "x": {"field": "q", "type": "quantitative", "axis": {"orient": "bottom", "values": [0,0.5,1,1.5,2,2.5], "labels": false, "ticks": true, "tickSize": -6, "title": null}},
    "y": {"field": "y", "type": "quantitative", "axis": {"orient": "left", "values": [0,0.5,1,1.5], "labels": false, "ticks": true, "tickSize": -6, "title": null}},
    "color": {"field": "s", "type": "nominal", "scale": {"domain": ["MC","RY","MHNC-PY","MHNC-LB","VMHNC-PY","VMHNC-LB"], "range": ["#000000","#a020f0","#ff0000","#0000ff","#00ff00","#ffa500"]}, "legend": null},
    "shape": {"field": "s", "type": "nominal", "scale": {"domain": ["RY","MHNC-PY","MHNC-LB","VMHNC-PY"], "range": ["M-1,0L1,0M0,-1L0,1","square","M-1,-1L1,1M-1,1L1,-1","circle"]}, "legend": null},
    "size": {"field": "s", "type": "nominal", "scale": {"type": "ordinal", "domain": ["RY","MHNC-PY","MHNC-LB","VMHNC-PY"], "range": [64,30,36,14]}, "legend": null},
    "fill": {"condition": {"test": "datum.s === 'VMHNC-PY'", "value": "#00ff00"}, "value": "transparent"}
   }},
  {"data": {"name": "labels"}, "transform": [{"filter": "datum.p === 'b'"}], "mark": {"type": "text", "align": "left", "baseline": "middle", "font": "Liberation Sans", "fontSize": 12, "color": "#000000"},
   "encoding": {"x": {"datum": 0.15, "type": "quantitative", "axis": null}, "y": {"datum": 1.345, "type": "quantitative", "axis": null}, "text": {"field": "tag"}}},
  {"data": {"name": "labels"}, "transform": [{"filter": "datum.p === 'b'"}], "mark": {"type": "text", "align": "left", "baseline": "middle", "font": "Liberation Sans", "fontSize": 12, "color": "#000000"},
   "encoding": {"x": {"datum": 1.975, "type": "quantitative", "axis": null}, "y": {"datum": 1.345, "type": "quantitative", "axis": null}, "text": {"field": "g"}}}
 ]},
{"width": 347.5, "height": 222.3, "resolve": {"axis": {"x": "independent", "y": "independent"}},
 "layer": [
  {"data": {"name": "mc"}, "transform": [{"filter": "datum.p === 'c'"}],
   "mark": {"type": "point", "shape": "circle", "filled": false, "stroke": "#000000", "strokeWidth": 0.7, "size": 42, "opacity": 1},
   "encoding": {
    "x": {"field": "q", "type": "quantitative", "scale": {"domain": [0, 2.5], "nice": false, "zero": false}, "axis": {"orient": "bottom", "values": [0,0.5,1,1.5,2,2.5], "format": "~g", "ticks": false, "labelFlush": false, "labelOverlap": false, "labelPadding": 13.5, "labelBaseline": "middle", "minExtent": 20, "maxExtent": 20, "title": "qR", "titlePadding": 5}},
    "y": {"field": "y", "type": "quantitative", "scale": {"domain": [0, 2], "nice": false, "zero": false}, "axis": {"orient": "left", "values": [0,0.5,1,1.5,2], "format": "~g", "ticks": false, "labelOverlap": false, "labelPadding": 8.6, "minExtent": 27, "maxExtent": 27, "title": "S(q)", "titlePadding": 7}}
   }},
  {"data": {"name": "curves"}, "transform": [{"filter": "datum.p === 'c'"}, {"fold": ["RY","MHNC-PY","MHNC-LB","VMHNC-PY","VMHNC-LB"], "as": ["s","y"]}, {"filter": "isValid(datum.y)"}],
   "mark": {"type": "line", "strokeWidth": 1.3},
   "encoding": {
    "x": {"field": "q", "type": "quantitative", "axis": {"orient": "top", "values": [0,0.5,1,1.5,2,2.5], "labels": false, "ticks": true, "tickSize": -6, "title": null}},
    "y": {"field": "y", "type": "quantitative", "axis": {"orient": "right", "values": [0,0.5,1,1.5,2], "labels": false, "ticks": true, "tickSize": -6, "title": null}},
    "color": {"field": "s", "type": "nominal", "scale": {"domain": ["MC","RY","MHNC-PY","MHNC-LB","VMHNC-PY","VMHNC-LB"], "range": ["#000000","#a020f0","#ff0000","#0000ff","#00ff00","#ffa500"]}, "legend": null}
   }},
  {"data": {"name": "curves"}, "transform": [{"filter": "datum.p === 'c'"}, {"fold": ["RY","MHNC-PY","MHNC-LB","VMHNC-PY","VMHNC-LB"], "as": ["s","y"]}, {"filter": "isValid(datum.y) && datum.s !== 'VMHNC-LB' && indexof([0,0.132,0.264,0.396,0.529,0.661,0.793,0.925,1.057,1.189,1.322,1.454,1.586,1.718,1.85,1.982,2.114,2.247,2.379,2.511,2.643,2.775,2.907], datum.q) >= 0"}],
   "mark": {"type": "point", "filled": false, "strokeWidth": 1.1, "opacity": 1},
   "encoding": {
    "x": {"field": "q", "type": "quantitative", "axis": {"orient": "bottom", "values": [0,0.5,1,1.5,2,2.5], "labels": false, "ticks": true, "tickSize": -6, "title": null}},
    "y": {"field": "y", "type": "quantitative", "axis": {"orient": "left", "values": [0,0.5,1,1.5,2], "labels": false, "ticks": true, "tickSize": -6, "title": null}},
    "color": {"field": "s", "type": "nominal", "scale": {"domain": ["MC","RY","MHNC-PY","MHNC-LB","VMHNC-PY","VMHNC-LB"], "range": ["#000000","#a020f0","#ff0000","#0000ff","#00ff00","#ffa500"]}, "legend": null},
    "shape": {"field": "s", "type": "nominal", "scale": {"domain": ["RY","MHNC-PY","MHNC-LB","VMHNC-PY"], "range": ["M-1,0L1,0M0,-1L0,1","square","M-1,-1L1,1M-1,1L1,-1","circle"]}, "legend": null},
    "size": {"field": "s", "type": "nominal", "scale": {"type": "ordinal", "domain": ["RY","MHNC-PY","MHNC-LB","VMHNC-PY"], "range": [64,30,36,14]}, "legend": null},
    "fill": {"condition": {"test": "datum.s === 'VMHNC-PY'", "value": "#00ff00"}, "value": "transparent"}
   }},
  {"data": {"name": "labels"}, "transform": [{"filter": "datum.p === 'c'"}], "mark": {"type": "text", "align": "left", "baseline": "middle", "font": "Liberation Sans", "fontSize": 12, "color": "#000000"},
   "encoding": {"x": {"datum": 0.15, "type": "quantitative", "axis": null}, "y": {"datum": 1.79, "type": "quantitative", "axis": null}, "text": {"field": "tag"}}},
  {"data": {"name": "labels"}, "transform": [{"filter": "datum.p === 'c'"}], "mark": {"type": "text", "align": "left", "baseline": "middle", "font": "Liberation Sans", "fontSize": 12, "color": "#000000"},
   "encoding": {"x": {"datum": 1.975, "type": "quantitative", "axis": null}, "y": {"datum": 1.79, "type": "quantitative", "axis": null}, "text": {"field": "g"}}}
 ]},
{"width": 347.5, "height": 222.3, "resolve": {"axis": {"x": "independent", "y": "independent"}},
 "layer": [
  {"data": {"name": "mc"}, "transform": [{"filter": "datum.p === 'd'"}],
   "mark": {"type": "point", "shape": "circle", "filled": false, "stroke": "#000000", "strokeWidth": 0.7, "size": 42, "opacity": 1},
   "encoding": {
    "x": {"field": "q", "type": "quantitative", "scale": {"domain": [0, 2.5], "nice": false, "zero": false}, "axis": {"orient": "bottom", "values": [0,0.5,1,1.5,2,2.5], "format": "~g", "ticks": false, "labelFlush": false, "labelOverlap": false, "labelPadding": 13.5, "labelBaseline": "middle", "minExtent": 20, "maxExtent": 20, "title": "qR", "titlePadding": 5}},
    "y": {"field": "y", "type": "quantitative", "scale": {"domain": [0, 2.75], "nice": false, "zero": false}, "axis": {"orient": "left", "values": [0,0.5,1,1.5,2,2.5], "format": "~g", "ticks": false, "labelOverlap": false, "labelPadding": 8.6, "minExtent": 27, "maxExtent": 27, "title": "S(q)", "titlePadding": 7}}
   }},
  {"data": {"name": "curves"}, "transform": [{"filter": "datum.p === 'd'"}, {"fold": ["RY","MHNC-PY","MHNC-LB","VMHNC-PY","VMHNC-LB"], "as": ["s","y"]}, {"filter": "isValid(datum.y)"}],
   "mark": {"type": "line", "strokeWidth": 1.3},
   "encoding": {
    "x": {"field": "q", "type": "quantitative", "axis": {"orient": "top", "values": [0,0.5,1,1.5,2,2.5], "labels": false, "ticks": true, "tickSize": -6, "title": null}},
    "y": {"field": "y", "type": "quantitative", "axis": {"orient": "right", "values": [0,0.5,1,1.5,2,2.5], "labels": false, "ticks": true, "tickSize": -6, "title": null}},
    "color": {"field": "s", "type": "nominal", "scale": {"domain": ["MC","RY","MHNC-PY","MHNC-LB","VMHNC-PY","VMHNC-LB"], "range": ["#000000","#a020f0","#ff0000","#0000ff","#00ff00","#ffa500"]}, "legend": null}
   }},
  {"data": {"name": "curves"}, "transform": [{"filter": "datum.p === 'd'"}, {"fold": ["RY","MHNC-PY","MHNC-LB","VMHNC-PY","VMHNC-LB"], "as": ["s","y"]}, {"filter": "isValid(datum.y) && datum.s !== 'VMHNC-LB' && indexof([0,0.132,0.264,0.396,0.529,0.661,0.793,0.925,1.057,1.189,1.322,1.454,1.586,1.718,1.85,1.982,2.114,2.247,2.379,2.511,2.643,2.775,2.907], datum.q) >= 0"}],
   "mark": {"type": "point", "filled": false, "strokeWidth": 1.1, "opacity": 1},
   "encoding": {
    "x": {"field": "q", "type": "quantitative", "axis": {"orient": "bottom", "values": [0,0.5,1,1.5,2,2.5], "labels": false, "ticks": true, "tickSize": -6, "title": null}},
    "y": {"field": "y", "type": "quantitative", "axis": {"orient": "left", "values": [0,0.5,1,1.5,2,2.5], "labels": false, "ticks": true, "tickSize": -6, "title": null}},
    "color": {"field": "s", "type": "nominal", "scale": {"domain": ["MC","RY","MHNC-PY","MHNC-LB","VMHNC-PY","VMHNC-LB"], "range": ["#000000","#a020f0","#ff0000","#0000ff","#00ff00","#ffa500"]}, "legend": null},
    "shape": {"field": "s", "type": "nominal", "scale": {"domain": ["RY","MHNC-PY","MHNC-LB","VMHNC-PY"], "range": ["M-1,0L1,0M0,-1L0,1","square","M-1,-1L1,1M-1,1L1,-1","circle"]}, "legend": null},
    "size": {"field": "s", "type": "nominal", "scale": {"type": "ordinal", "domain": ["RY","MHNC-PY","MHNC-LB","VMHNC-PY"], "range": [64,30,36,14]}, "legend": null},
    "fill": {"condition": {"test": "datum.s === 'VMHNC-PY'", "value": "#00ff00"}, "value": "transparent"}
   }},
  {"data": {"name": "labels"}, "transform": [{"filter": "datum.p === 'd'"}], "mark": {"type": "text", "align": "left", "baseline": "middle", "font": "Liberation Sans", "fontSize": 12, "color": "#000000"},
   "encoding": {"x": {"datum": 0.15, "type": "quantitative", "axis": null}, "y": {"datum": 2.47, "type": "quantitative", "axis": null}, "text": {"field": "tag"}}},
  {"data": {"name": "labels"}, "transform": [{"filter": "datum.p === 'd'"}], "mark": {"type": "text", "align": "left", "baseline": "middle", "font": "Liberation Sans", "fontSize": 12, "color": "#000000"},
   "encoding": {"x": {"datum": 1.975, "type": "quantitative", "axis": null}, "y": {"datum": 2.47, "type": "quantitative", "axis": null}, "text": {"field": "g"}}}
 ]},
{"width": 347.5, "height": 222.3, "resolve": {"axis": {"x": "independent", "y": "independent"}},
 "layer": [
  {"data": {"name": "mc"}, "transform": [{"filter": "datum.p === 'e'"}],
   "mark": {"type": "point", "shape": "circle", "filled": false, "stroke": "#000000", "strokeWidth": 0.7, "size": 42, "opacity": 1},
   "encoding": {
    "x": {"field": "q", "type": "quantitative", "scale": {"domain": [0, 3], "nice": false, "zero": false}, "axis": {"orient": "bottom", "values": [0,0.5,1,1.5,2,2.5,3], "format": "~g", "ticks": false, "labelFlush": false, "labelOverlap": false, "labelPadding": 13.5, "labelBaseline": "middle", "minExtent": 20, "maxExtent": 20, "title": "qR", "titlePadding": 5}},
    "y": {"field": "y", "type": "quantitative", "scale": {"domain": [0, 3.25], "nice": false, "zero": false}, "axis": {"orient": "left", "values": [0,0.5,1,1.5,2,2.5,3], "format": "~g", "ticks": false, "labelOverlap": false, "labelPadding": 8.6, "minExtent": 27, "maxExtent": 27, "title": "S(q)", "titlePadding": 7}}
   }},
  {"data": {"name": "curves"}, "transform": [{"filter": "datum.p === 'e'"}, {"fold": ["RY","MHNC-PY","MHNC-LB","VMHNC-PY","VMHNC-LB"], "as": ["s","y"]}, {"filter": "isValid(datum.y)"}],
   "mark": {"type": "line", "strokeWidth": 1.3},
   "encoding": {
    "x": {"field": "q", "type": "quantitative", "axis": {"orient": "top", "values": [0,0.5,1,1.5,2,2.5,3], "labels": false, "ticks": true, "tickSize": -6, "title": null}},
    "y": {"field": "y", "type": "quantitative", "axis": {"orient": "right", "values": [0,0.5,1,1.5,2,2.5,3], "labels": false, "ticks": true, "tickSize": -6, "title": null}},
    "color": {"field": "s", "type": "nominal", "scale": {"domain": ["MC","RY","MHNC-PY","MHNC-LB","VMHNC-PY","VMHNC-LB"], "range": ["#000000","#a020f0","#ff0000","#0000ff","#00ff00","#ffa500"]}, "legend": null}
   }},
  {"data": {"name": "curves"}, "transform": [{"filter": "datum.p === 'e'"}, {"fold": ["RY","MHNC-PY","MHNC-LB","VMHNC-PY","VMHNC-LB"], "as": ["s","y"]}, {"filter": "isValid(datum.y) && datum.s !== 'VMHNC-LB' && indexof([0,0.132,0.264,0.396,0.529,0.661,0.793,0.925,1.057,1.189,1.322,1.454,1.586,1.718,1.85,1.982,2.114,2.247,2.379,2.511,2.643,2.775,2.907], datum.q) >= 0"}],
   "mark": {"type": "point", "filled": false, "strokeWidth": 1.1, "opacity": 1},
   "encoding": {
    "x": {"field": "q", "type": "quantitative", "axis": {"orient": "bottom", "values": [0,0.5,1,1.5,2,2.5,3], "labels": false, "ticks": true, "tickSize": -6, "title": null}},
    "y": {"field": "y", "type": "quantitative", "axis": {"orient": "left", "values": [0,0.5,1,1.5,2,2.5,3], "labels": false, "ticks": true, "tickSize": -6, "title": null}},
    "color": {"field": "s", "type": "nominal", "scale": {"domain": ["MC","RY","MHNC-PY","MHNC-LB","VMHNC-PY","VMHNC-LB"], "range": ["#000000","#a020f0","#ff0000","#0000ff","#00ff00","#ffa500"]}, "legend": null},
    "shape": {"field": "s", "type": "nominal", "scale": {"domain": ["RY","MHNC-PY","MHNC-LB","VMHNC-PY"], "range": ["M-1,0L1,0M0,-1L0,1","square","M-1,-1L1,1M-1,1L1,-1","circle"]}, "legend": null},
    "size": {"field": "s", "type": "nominal", "scale": {"type": "ordinal", "domain": ["RY","MHNC-PY","MHNC-LB","VMHNC-PY"], "range": [64,30,36,14]}, "legend": null},
    "fill": {"condition": {"test": "datum.s === 'VMHNC-PY'", "value": "#00ff00"}, "value": "transparent"}
   }},
  {"data": {"name": "labels"}, "transform": [{"filter": "datum.p === 'e'"}], "mark": {"type": "text", "align": "left", "baseline": "middle", "font": "Liberation Sans", "fontSize": 12, "color": "#000000"},
   "encoding": {"x": {"datum": 0.175, "type": "quantitative", "axis": null}, "y": {"datum": 2.91, "type": "quantitative", "axis": null}, "text": {"field": "tag"}}},
  {"data": {"name": "labels"}, "transform": [{"filter": "datum.p === 'e'"}], "mark": {"type": "text", "align": "left", "baseline": "middle", "font": "Liberation Sans", "fontSize": 12, "color": "#000000"},
   "encoding": {"x": {"datum": 2.375, "type": "quantitative", "axis": null}, "y": {"datum": 2.91, "type": "quantitative", "axis": null}, "text": {"field": "g"}}}
 ]},
{"width": 347.5, "height": 222.3, "resolve": {"axis": {"x": "independent", "y": "independent"}},
 "layer": [
  {"data": {"name": "mc"}, "transform": [{"filter": "datum.p === 'f'"}],
   "mark": {"type": "point", "shape": "circle", "filled": false, "stroke": "#000000", "strokeWidth": 0.7, "size": 42, "opacity": 1},
   "encoding": {
    "x": {"field": "q", "type": "quantitative", "scale": {"domain": [0, 3], "nice": false, "zero": false}, "axis": {"orient": "bottom", "values": [0,0.5,1,1.5,2,2.5,3], "format": "~g", "ticks": false, "labelFlush": false, "labelOverlap": false, "labelPadding": 13.5, "labelBaseline": "middle", "minExtent": 20, "maxExtent": 20, "title": "qR", "titlePadding": 5}},
    "y": {"field": "y", "type": "quantitative", "scale": {"domain": [0, 4], "nice": false, "zero": false}, "axis": {"orient": "left", "values": [0,0.5,1,1.5,2,2.5,3,3.5,4], "format": "~g", "ticks": false, "labelOverlap": false, "labelPadding": 8.6, "minExtent": 27, "maxExtent": 27, "title": "S(q)", "titlePadding": 7}}
   }},
  {"data": {"name": "curves"}, "transform": [{"filter": "datum.p === 'f'"}, {"fold": ["RY","MHNC-PY","MHNC-LB","VMHNC-PY","VMHNC-LB"], "as": ["s","y"]}, {"filter": "isValid(datum.y)"}],
   "mark": {"type": "line", "strokeWidth": 1.3},
   "encoding": {
    "x": {"field": "q", "type": "quantitative", "axis": {"orient": "top", "values": [0,0.5,1,1.5,2,2.5,3], "labels": false, "ticks": true, "tickSize": -6, "title": null}},
    "y": {"field": "y", "type": "quantitative", "axis": {"orient": "right", "values": [0,0.5,1,1.5,2,2.5,3,3.5,4], "labels": false, "ticks": true, "tickSize": -6, "title": null}},
    "color": {"field": "s", "type": "nominal", "scale": {"domain": ["MC","RY","MHNC-PY","MHNC-LB","VMHNC-PY","VMHNC-LB"], "range": ["#000000","#a020f0","#ff0000","#0000ff","#00ff00","#ffa500"]}, "legend": null}
   }},
  {"data": {"name": "curves"}, "transform": [{"filter": "datum.p === 'f'"}, {"fold": ["RY","MHNC-PY","MHNC-LB","VMHNC-PY","VMHNC-LB"], "as": ["s","y"]}, {"filter": "isValid(datum.y) && datum.s !== 'VMHNC-LB' && indexof([0,0.132,0.264,0.396,0.529,0.661,0.793,0.925,1.057,1.189,1.322,1.454,1.586,1.718,1.85,1.982,2.114,2.247,2.379,2.511,2.643,2.775,2.907], datum.q) >= 0"}],
   "mark": {"type": "point", "filled": false, "strokeWidth": 1.1, "opacity": 1},
   "encoding": {
    "x": {"field": "q", "type": "quantitative", "axis": {"orient": "bottom", "values": [0,0.5,1,1.5,2,2.5,3], "labels": false, "ticks": true, "tickSize": -6, "title": null}},
    "y": {"field": "y", "type": "quantitative", "axis": {"orient": "left", "values": [0,0.5,1,1.5,2,2.5,3,3.5,4], "labels": false, "ticks": true, "tickSize": -6, "title": null}},
    "color": {"field": "s", "type": "nominal", "scale": {"domain": ["MC","RY","MHNC-PY","MHNC-LB","VMHNC-PY","VMHNC-LB"], "range": ["#000000","#a020f0","#ff0000","#0000ff","#00ff00","#ffa500"]}, "legend": null},
    "shape": {"field": "s", "type": "nominal", "scale": {"domain": ["RY","MHNC-PY","MHNC-LB","VMHNC-PY"], "range": ["M-1,0L1,0M0,-1L0,1","square","M-1,-1L1,1M-1,1L1,-1","circle"]}, "legend": null},
    "size": {"field": "s", "type": "nominal", "scale": {"type": "ordinal", "domain": ["RY","MHNC-PY","MHNC-LB","VMHNC-PY"], "range": [64,30,36,14]}, "legend": null},
    "fill": {"condition": {"test": "datum.s === 'VMHNC-PY'", "value": "#00ff00"}, "value": "transparent"}
   }},
  {"data": {"name": "labels"}, "transform": [{"filter": "datum.p === 'f'"}], "mark": {"type": "text", "align": "left", "baseline": "middle", "font": "Liberation Sans", "fontSize": 12, "color": "#000000"},
   "encoding": {"x": {"datum": 0.175, "type": "quantitative", "axis": null}, "y": {"datum": 3.585, "type": "quantitative", "axis": null}, "text": {"field": "tag"}}},
  {"data": {"name": "labels"}, "transform": [{"filter": "datum.p === 'f'"}], "mark": {"type": "text", "align": "left", "baseline": "middle", "font": "Liberation Sans", "fontSize": 12, "color": "#000000"},
   "encoding": {"x": {"datum": 2.375, "type": "quantitative", "axis": null}, "y": {"datum": 3.585, "type": "quantitative", "axis": null}, "text": {"field": "g"}}}
 ]}
],
"config": {
 "view": {"stroke": "#000000", "strokeWidth": 1},
 "font": "Liberation Sans",
 "axis": {"labelFont": "Liberation Sans", "labelFontSize": 12, "labelColor": "#000000", "tickColor": "#000000", "tickWidth": 1, "titleFont": "Liberation Serif", "titleFontSize": 15, "titleFontStyle": "italic", "titleFontWeight": "normal", "titleColor": "#000000", "grid": false, "domain": false}
}
}
